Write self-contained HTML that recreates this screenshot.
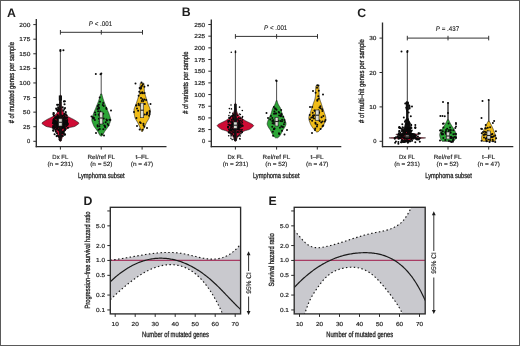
<!DOCTYPE html>
<html><head><meta charset="utf-8"><style>
html,body{margin:0;padding:0;background:#fff;width:520px;height:346px;overflow:hidden;}
body{position:relative;font-family:"Liberation Sans", sans-serif;}
text{text-rendering:geometricPrecision;}
</style></head><body>
<svg width="520" height="346" viewBox="0 0 520 346" style="position:absolute;left:0;top:0;filter:blur(0.35px)">
<rect x="0" y="0" width="520" height="346" fill="#ffffff"/>
<g font-family='"Liberation Sans", sans-serif'>
<text x="11.40" y="16.60" font-size="12.3" text-anchor="middle" font-weight="bold" fill="#1e1e1e">A</text>
<line x1="36.30" y1="19.00" x2="36.30" y2="147.20" stroke="#2b2b2b" stroke-width="1.35"/>
<line x1="33.30" y1="141.30" x2="36.30" y2="141.30" stroke="#2b2b2b" stroke-width="1.0"/>
<text x="30.30" y="143.30" font-size="5.8" text-anchor="end" stroke="#1e1e1e" stroke-width="0.18" fill="#1e1e1e">0</text>
<line x1="33.30" y1="126.71" x2="36.30" y2="126.71" stroke="#2b2b2b" stroke-width="1.0"/>
<text x="30.30" y="128.71" font-size="5.8" text-anchor="end" stroke="#1e1e1e" stroke-width="0.18" textLength="7.20" lengthAdjust="spacingAndGlyphs" fill="#1e1e1e">25</text>
<line x1="33.30" y1="112.13" x2="36.30" y2="112.13" stroke="#2b2b2b" stroke-width="1.0"/>
<text x="30.30" y="114.13" font-size="5.8" text-anchor="end" stroke="#1e1e1e" stroke-width="0.18" textLength="7.20" lengthAdjust="spacingAndGlyphs" fill="#1e1e1e">50</text>
<line x1="33.30" y1="97.54" x2="36.30" y2="97.54" stroke="#2b2b2b" stroke-width="1.0"/>
<text x="30.30" y="99.54" font-size="5.8" text-anchor="end" stroke="#1e1e1e" stroke-width="0.18" textLength="7.20" lengthAdjust="spacingAndGlyphs" fill="#1e1e1e">75</text>
<line x1="33.30" y1="82.95" x2="36.30" y2="82.95" stroke="#2b2b2b" stroke-width="1.0"/>
<text x="30.30" y="84.95" font-size="5.8" text-anchor="end" stroke="#1e1e1e" stroke-width="0.18" textLength="10.95" lengthAdjust="spacingAndGlyphs" fill="#1e1e1e">100</text>
<line x1="33.30" y1="68.36" x2="36.30" y2="68.36" stroke="#2b2b2b" stroke-width="1.0"/>
<text x="30.30" y="70.36" font-size="5.8" text-anchor="end" stroke="#1e1e1e" stroke-width="0.18" textLength="10.95" lengthAdjust="spacingAndGlyphs" fill="#1e1e1e">125</text>
<line x1="33.30" y1="53.78" x2="36.30" y2="53.78" stroke="#2b2b2b" stroke-width="1.0"/>
<text x="30.30" y="55.78" font-size="5.8" text-anchor="end" stroke="#1e1e1e" stroke-width="0.18" textLength="10.95" lengthAdjust="spacingAndGlyphs" fill="#1e1e1e">150</text>
<line x1="33.30" y1="39.19" x2="36.30" y2="39.19" stroke="#2b2b2b" stroke-width="1.0"/>
<text x="30.30" y="41.19" font-size="5.8" text-anchor="end" stroke="#1e1e1e" stroke-width="0.18" textLength="10.95" lengthAdjust="spacingAndGlyphs" fill="#1e1e1e">175</text>
<line x1="33.30" y1="24.60" x2="36.30" y2="24.60" stroke="#2b2b2b" stroke-width="1.0"/>
<text x="30.30" y="26.60" font-size="5.8" text-anchor="end" stroke="#1e1e1e" stroke-width="0.18" textLength="10.95" lengthAdjust="spacingAndGlyphs" fill="#1e1e1e">200</text>
<line x1="35.70" y1="146.60" x2="166.50" y2="146.60" stroke="#2b2b2b" stroke-width="1.35"/>
<line x1="60.40" y1="146.60" x2="60.40" y2="149.60" stroke="#2b2b2b" stroke-width="1.0"/>
<line x1="101.20" y1="146.60" x2="101.20" y2="149.60" stroke="#2b2b2b" stroke-width="1.0"/>
<line x1="142.10" y1="146.60" x2="142.10" y2="149.60" stroke="#2b2b2b" stroke-width="1.0"/>
<text x="60.30" y="158.60" font-size="6.0" text-anchor="middle" stroke="#1e1e1e" stroke-width="0.15" textLength="15.90" lengthAdjust="spacingAndGlyphs" fill="#1e1e1e">Dx FL</text>
<text x="60.30" y="165.70" font-size="6.0" text-anchor="middle" stroke="#1e1e1e" stroke-width="0.15" textLength="25.60" lengthAdjust="spacingAndGlyphs" fill="#1e1e1e">(n = 231)</text>
<text x="101.30" y="158.60" font-size="6.0" text-anchor="middle" stroke="#1e1e1e" stroke-width="0.15" textLength="27.60" lengthAdjust="spacingAndGlyphs" fill="#1e1e1e">Rel/ref FL</text>
<text x="101.30" y="165.70" font-size="6.0" text-anchor="middle" stroke="#1e1e1e" stroke-width="0.15" textLength="22.20" lengthAdjust="spacingAndGlyphs" fill="#1e1e1e">(n = 52)</text>
<text x="142.00" y="158.60" font-size="6.0" text-anchor="middle" stroke="#1e1e1e" stroke-width="0.15" textLength="13.20" lengthAdjust="spacingAndGlyphs" fill="#1e1e1e">t–FL</text>
<text x="142.00" y="165.70" font-size="6.0" text-anchor="middle" stroke="#1e1e1e" stroke-width="0.15" textLength="22.30" lengthAdjust="spacingAndGlyphs" fill="#1e1e1e">(n = 47)</text>
<text x="101.30" y="177.60" font-size="7.5" text-anchor="middle" stroke="#1e1e1e" stroke-width="0.3" textLength="46.60" lengthAdjust="spacingAndGlyphs" fill="#1e1e1e">Lymphoma subset</text>
<text x="14.10" y="82.70" font-size="7.6" text-anchor="middle" stroke="#1e1e1e" stroke-width="0.3" textLength="81.20" lengthAdjust="spacingAndGlyphs" transform="rotate(-90 14.10 82.70)" fill="#1e1e1e"># of mutated genes per sample</text>
<line x1="60.40" y1="32.30" x2="142.50" y2="32.30" stroke="#333" stroke-width="1.0"/>
<line x1="60.40" y1="30.00" x2="60.40" y2="34.60" stroke="#333" stroke-width="1.0"/>
<line x1="101.30" y1="30.00" x2="101.30" y2="34.60" stroke="#333" stroke-width="1.0"/>
<line x1="142.50" y1="30.00" x2="142.50" y2="34.60" stroke="#333" stroke-width="1.0"/>
<text x="100.50" y="25.90" font-size="6.7" text-anchor="middle" fill="#1e1e1e" stroke="#1e1e1e" stroke-width="0.12" textLength="23.40" lengthAdjust="spacingAndGlyphs"><tspan font-style="italic">P</tspan> &lt; .001</text>
<line x1="60.40" y1="50.00" x2="60.40" y2="100.00" stroke="#222" stroke-width="0.8"/>
<path d="M60.70,95.00 L60.70,95.52 L60.71,96.04 L60.72,96.56 L60.73,97.08 L60.75,97.60 L60.77,98.12 L60.80,98.64 L60.83,99.16 L60.86,99.68 L60.89,100.20 L60.93,100.72 L60.96,101.24 L61.00,101.76 L61.05,102.28 L61.09,102.80 L61.14,103.32 L61.19,103.84 L61.24,104.36 L61.31,104.88 L61.39,105.40 L61.49,105.92 L61.60,106.44 L61.73,106.97 L61.86,107.49 L62.00,108.01 L62.15,108.53 L62.31,109.05 L62.46,109.57 L62.63,110.09 L62.80,110.61 L62.99,111.13 L63.20,111.65 L63.44,112.17 L63.72,112.69 L64.03,113.21 L64.41,113.73 L64.87,114.25 L65.39,114.77 L65.99,115.29 L66.64,115.81 L67.42,116.33 L68.45,116.85 L69.54,117.37 L70.57,117.89 L71.63,118.41 L72.67,118.93 L73.66,119.45 L74.56,119.97 L75.42,120.49 L76.21,121.01 L76.94,121.53 L77.73,122.05 L78.48,122.57 L78.89,123.09 L78.73,123.61 L78.16,124.13 L77.40,124.65 L76.67,125.17 L75.93,125.69 L75.01,126.21 L73.63,126.73 L70.83,127.25 L69.08,127.77 L67.98,128.29 L67.16,128.81 L66.47,129.33 L65.88,129.86 L65.39,130.38 L64.97,130.90 L64.63,131.42 L64.33,131.94 L64.06,132.46 L63.82,132.98 L63.60,133.50 L63.39,134.02 L63.20,134.54 L63.02,135.06 L62.85,135.58 L62.69,136.10 L62.54,136.62 L62.38,137.14 L62.21,137.66 L62.04,138.18 L61.86,138.70 L61.67,139.22 L61.48,139.74 L61.29,140.26 L61.10,140.78 L60.90,141.30 L59.90,141.30 L59.70,140.78 L59.51,140.26 L59.32,139.74 L59.13,139.22 L58.94,138.70 L58.76,138.18 L58.59,137.66 L58.42,137.14 L58.26,136.62 L58.11,136.10 L57.95,135.58 L57.78,135.06 L57.60,134.54 L57.41,134.02 L57.20,133.50 L56.98,132.98 L56.74,132.46 L56.47,131.94 L56.17,131.42 L55.83,130.90 L55.41,130.38 L54.92,129.86 L54.33,129.33 L53.64,128.81 L52.82,128.29 L51.72,127.77 L49.97,127.25 L47.17,126.73 L45.79,126.21 L44.87,125.69 L44.13,125.17 L43.40,124.65 L42.64,124.13 L42.07,123.61 L41.91,123.09 L42.32,122.57 L43.07,122.05 L43.86,121.53 L44.59,121.01 L45.38,120.49 L46.24,119.97 L47.14,119.45 L48.13,118.93 L49.17,118.41 L50.23,117.89 L51.26,117.37 L52.35,116.85 L53.38,116.33 L54.16,115.81 L54.81,115.29 L55.41,114.77 L55.93,114.25 L56.39,113.73 L56.77,113.21 L57.08,112.69 L57.36,112.17 L57.60,111.65 L57.81,111.13 L58.00,110.61 L58.17,110.09 L58.34,109.57 L58.49,109.05 L58.65,108.53 L58.80,108.01 L58.94,107.49 L59.07,106.97 L59.20,106.44 L59.31,105.92 L59.41,105.40 L59.49,104.88 L59.56,104.36 L59.61,103.84 L59.66,103.32 L59.71,102.80 L59.75,102.28 L59.80,101.76 L59.84,101.24 L59.87,100.72 L59.91,100.20 L59.94,99.68 L59.97,99.16 L60.00,98.64 L60.03,98.12 L60.05,97.60 L60.07,97.08 L60.08,96.56 L60.09,96.04 L60.10,95.52 L60.10,95.00Z" fill="#cf0c35" stroke="#1a1a1a" stroke-width="0.6" stroke-linejoin="round"/>
<g fill="#0a0a0a"><circle cx="65.57" cy="123.86" r="1.05"/><circle cx="64.68" cy="130.21" r="1.05"/><circle cx="59.61" cy="126.89" r="1.05"/><circle cx="63.59" cy="117.81" r="1.05"/><circle cx="53.42" cy="119.93" r="1.05"/><circle cx="58.75" cy="129.85" r="1.05"/><circle cx="64.00" cy="101.41" r="1.05"/><circle cx="61.59" cy="127.04" r="1.05"/><circle cx="61.27" cy="127.75" r="1.05"/><circle cx="62.87" cy="122.31" r="1.05"/><circle cx="63.07" cy="119.82" r="1.05"/><circle cx="61.65" cy="118.52" r="1.05"/><circle cx="59.21" cy="118.67" r="1.05"/><circle cx="55.65" cy="122.48" r="1.05"/><circle cx="57.29" cy="122.76" r="1.05"/><circle cx="57.29" cy="123.51" r="1.05"/><circle cx="59.57" cy="139.61" r="1.05"/><circle cx="67.89" cy="127.80" r="1.05"/><circle cx="58.19" cy="124.34" r="1.05"/><circle cx="59.77" cy="137.25" r="1.05"/><circle cx="58.47" cy="117.65" r="1.05"/><circle cx="61.62" cy="115.45" r="1.05"/><circle cx="67.12" cy="122.29" r="1.05"/><circle cx="64.29" cy="109.03" r="1.05"/><circle cx="59.17" cy="109.05" r="1.05"/><circle cx="56.90" cy="122.94" r="1.05"/><circle cx="66.17" cy="121.55" r="1.05"/><circle cx="60.33" cy="131.39" r="1.05"/><circle cx="63.18" cy="125.14" r="1.05"/><circle cx="54.00" cy="123.01" r="1.05"/><circle cx="65.90" cy="122.72" r="1.05"/><circle cx="57.59" cy="118.69" r="1.05"/><circle cx="60.35" cy="102.87" r="1.05"/><circle cx="55.87" cy="117.99" r="1.05"/><circle cx="59.20" cy="125.78" r="1.05"/><circle cx="65.32" cy="117.86" r="1.05"/><circle cx="65.31" cy="120.30" r="1.05"/><circle cx="60.14" cy="99.62" r="1.05"/><circle cx="64.42" cy="127.69" r="1.05"/><circle cx="59.77" cy="117.06" r="1.05"/><circle cx="58.50" cy="118.40" r="1.05"/><circle cx="61.09" cy="129.89" r="1.05"/><circle cx="55.92" cy="122.91" r="1.05"/><circle cx="57.65" cy="127.85" r="1.05"/><circle cx="63.50" cy="125.71" r="1.05"/><circle cx="64.46" cy="127.10" r="1.05"/><circle cx="53.75" cy="113.26" r="1.05"/><circle cx="63.89" cy="123.71" r="1.05"/><circle cx="65.16" cy="123.03" r="1.05"/><circle cx="59.58" cy="127.96" r="1.05"/><circle cx="53.84" cy="120.86" r="1.05"/><circle cx="63.14" cy="123.98" r="1.05"/><circle cx="57.86" cy="111.05" r="1.05"/><circle cx="62.55" cy="120.50" r="1.05"/><circle cx="58.55" cy="120.00" r="1.05"/><circle cx="62.46" cy="116.08" r="1.05"/><circle cx="56.77" cy="128.37" r="1.05"/><circle cx="60.05" cy="121.24" r="1.05"/><circle cx="60.70" cy="137.14" r="1.05"/><circle cx="62.37" cy="124.82" r="1.05"/><circle cx="55.95" cy="123.79" r="1.05"/><circle cx="67.33" cy="124.34" r="1.05"/><circle cx="57.24" cy="124.03" r="1.05"/><circle cx="57.49" cy="117.24" r="1.05"/><circle cx="56.74" cy="122.50" r="1.05"/><circle cx="53.91" cy="119.16" r="1.05"/><circle cx="59.24" cy="121.77" r="1.05"/><circle cx="64.48" cy="113.83" r="1.05"/><circle cx="62.91" cy="136.06" r="1.05"/><circle cx="55.83" cy="117.91" r="1.05"/><circle cx="54.95" cy="125.00" r="1.05"/><circle cx="57.72" cy="119.75" r="1.05"/><circle cx="64.42" cy="130.55" r="1.05"/><circle cx="60.22" cy="125.23" r="1.05"/><circle cx="66.75" cy="115.49" r="1.05"/><circle cx="62.75" cy="128.19" r="1.05"/><circle cx="61.85" cy="133.45" r="1.05"/><circle cx="63.61" cy="132.15" r="1.05"/><circle cx="64.15" cy="123.99" r="1.05"/><circle cx="58.06" cy="116.12" r="1.05"/><circle cx="56.76" cy="117.30" r="1.05"/><circle cx="59.65" cy="131.95" r="1.05"/><circle cx="60.24" cy="123.43" r="1.05"/><circle cx="55.03" cy="117.70" r="1.05"/><circle cx="59.52" cy="129.85" r="1.05"/><circle cx="62.50" cy="124.54" r="1.05"/><circle cx="54.94" cy="123.55" r="1.05"/><circle cx="54.97" cy="121.11" r="1.05"/><circle cx="55.51" cy="120.53" r="1.05"/><circle cx="57.15" cy="118.47" r="1.05"/><circle cx="65.02" cy="108.07" r="1.05"/><circle cx="53.29" cy="130.28" r="1.05"/><circle cx="55.66" cy="121.90" r="1.05"/><circle cx="55.38" cy="123.70" r="1.05"/><circle cx="60.02" cy="121.07" r="1.05"/><circle cx="53.13" cy="126.15" r="1.05"/><circle cx="59.98" cy="106.12" r="1.05"/><circle cx="55.34" cy="121.04" r="1.05"/><circle cx="58.10" cy="107.36" r="1.05"/><circle cx="64.79" cy="114.60" r="1.05"/><circle cx="56.61" cy="136.09" r="1.05"/><circle cx="62.16" cy="126.11" r="1.05"/><circle cx="58.99" cy="121.66" r="1.05"/><circle cx="59.16" cy="122.90" r="1.05"/><circle cx="65.15" cy="129.01" r="1.05"/><circle cx="55.31" cy="120.68" r="1.05"/><circle cx="66.76" cy="123.16" r="1.05"/><circle cx="66.30" cy="124.57" r="1.05"/><circle cx="62.92" cy="121.48" r="1.05"/><circle cx="53.64" cy="122.48" r="1.05"/><circle cx="62.85" cy="127.20" r="1.05"/><circle cx="61.60" cy="132.32" r="1.05"/><circle cx="64.48" cy="116.45" r="1.05"/><circle cx="56.97" cy="133.28" r="1.05"/><circle cx="64.93" cy="101.26" r="1.05"/><circle cx="66.19" cy="126.22" r="1.05"/><circle cx="54.62" cy="127.19" r="1.05"/><circle cx="57.63" cy="114.93" r="1.05"/><circle cx="53.39" cy="121.62" r="1.05"/><circle cx="65.36" cy="128.54" r="1.05"/><circle cx="64.55" cy="104.30" r="1.05"/><circle cx="67.75" cy="123.89" r="1.05"/><circle cx="62.08" cy="126.59" r="1.05"/><circle cx="62.89" cy="122.61" r="1.05"/><circle cx="63.08" cy="126.07" r="1.05"/><circle cx="61.45" cy="118.16" r="1.05"/><circle cx="67.19" cy="117.75" r="1.05"/><circle cx="62.02" cy="121.00" r="1.05"/><circle cx="57.94" cy="117.00" r="1.05"/><circle cx="60.59" cy="120.46" r="1.05"/><circle cx="54.62" cy="134.18" r="1.05"/><circle cx="63.76" cy="123.64" r="1.05"/><circle cx="63.31" cy="120.68" r="1.05"/><circle cx="59.22" cy="120.40" r="1.05"/><circle cx="64.62" cy="134.74" r="1.05"/><circle cx="64.23" cy="122.07" r="1.05"/><circle cx="58.44" cy="136.35" r="1.05"/><circle cx="54.06" cy="123.15" r="1.05"/><circle cx="54.88" cy="121.86" r="1.05"/><circle cx="55.66" cy="129.90" r="1.05"/><circle cx="57.46" cy="126.74" r="1.05"/><circle cx="59.61" cy="124.22" r="1.05"/><circle cx="66.82" cy="121.61" r="1.05"/><circle cx="57.08" cy="128.84" r="1.05"/><circle cx="66.38" cy="121.26" r="1.05"/><circle cx="62.57" cy="131.88" r="1.05"/><circle cx="65.70" cy="112.16" r="1.05"/><circle cx="58.95" cy="123.17" r="1.05"/><circle cx="52.95" cy="123.16" r="1.05"/><circle cx="63.84" cy="133.81" r="1.05"/><circle cx="56.58" cy="118.13" r="1.05"/><circle cx="55.04" cy="127.40" r="1.05"/><circle cx="64.89" cy="125.01" r="1.05"/><circle cx="63.19" cy="125.09" r="1.05"/><circle cx="56.09" cy="124.53" r="1.05"/><circle cx="57.61" cy="135.57" r="1.05"/><circle cx="66.99" cy="120.94" r="1.05"/><circle cx="56.93" cy="122.01" r="1.05"/><circle cx="63.44" cy="118.38" r="1.05"/><circle cx="56.70" cy="109.84" r="1.05"/><circle cx="65.13" cy="118.26" r="1.05"/><circle cx="55.81" cy="131.77" r="1.05"/><circle cx="60.64" cy="128.20" r="1.05"/><circle cx="53.43" cy="114.44" r="1.05"/><circle cx="61.15" cy="123.35" r="1.05"/><circle cx="65.60" cy="121.61" r="1.05"/><circle cx="54.17" cy="124.49" r="1.05"/><circle cx="57.01" cy="124.79" r="1.05"/><circle cx="64.37" cy="119.96" r="1.05"/><circle cx="61.70" cy="135.87" r="1.05"/><circle cx="57.59" cy="121.21" r="1.05"/><circle cx="62.33" cy="123.99" r="1.05"/><circle cx="59.72" cy="124.67" r="1.05"/><circle cx="65.84" cy="117.53" r="1.05"/><circle cx="58.33" cy="111.00" r="1.05"/><circle cx="64.27" cy="122.10" r="1.05"/><circle cx="62.44" cy="126.68" r="1.05"/><circle cx="64.01" cy="126.93" r="1.05"/><circle cx="58.57" cy="125.44" r="1.05"/><circle cx="63.77" cy="115.24" r="1.05"/><circle cx="62.78" cy="131.90" r="1.05"/><circle cx="58.71" cy="126.19" r="1.05"/><circle cx="53.30" cy="130.67" r="1.05"/><circle cx="67.34" cy="123.38" r="1.05"/><circle cx="62.96" cy="132.65" r="1.05"/><circle cx="57.45" cy="109.45" r="1.05"/><circle cx="62.71" cy="107.19" r="1.05"/><circle cx="58.19" cy="104.71" r="1.05"/><circle cx="59.94" cy="120.36" r="1.05"/><circle cx="65.80" cy="118.62" r="1.05"/><circle cx="59.62" cy="118.35" r="1.05"/><circle cx="57.22" cy="123.30" r="1.05"/><circle cx="58.45" cy="108.79" r="1.05"/><circle cx="54.06" cy="122.90" r="1.05"/><circle cx="56.19" cy="116.51" r="1.05"/><circle cx="56.97" cy="125.82" r="1.05"/><circle cx="57.13" cy="104.85" r="1.05"/><circle cx="53.85" cy="120.58" r="1.05"/><circle cx="59.99" cy="133.48" r="1.05"/><circle cx="56.12" cy="122.62" r="1.05"/><circle cx="63.98" cy="127.25" r="1.05"/><circle cx="66.74" cy="124.62" r="1.05"/><circle cx="56.99" cy="124.21" r="1.05"/><circle cx="61.48" cy="117.19" r="1.05"/><circle cx="60.50" cy="123.19" r="1.05"/><circle cx="56.15" cy="108.62" r="1.05"/><circle cx="54.77" cy="126.71" r="1.05"/><circle cx="65.02" cy="134.38" r="1.05"/><circle cx="60.01" cy="128.84" r="1.05"/><circle cx="63.45" cy="110.65" r="1.05"/><circle cx="53.90" cy="119.46" r="1.05"/><circle cx="61.82" cy="120.05" r="1.05"/><circle cx="65.88" cy="114.25" r="1.05"/><circle cx="65.91" cy="123.87" r="1.05"/><circle cx="52.99" cy="127.73" r="1.05"/><circle cx="60.73" cy="119.63" r="1.05"/><circle cx="58.44" cy="130.10" r="1.05"/><circle cx="64.30" cy="126.75" r="1.05"/><circle cx="54.00" cy="115.65" r="1.05"/><circle cx="56.87" cy="126.53" r="1.05"/><circle cx="65.09" cy="129.63" r="1.05"/><circle cx="59.94" cy="117.97" r="1.05"/><circle cx="59.70" cy="123.59" r="1.05"/><circle cx="67.43" cy="124.93" r="1.05"/><circle cx="57.70" cy="124.21" r="1.05"/><circle cx="53.53" cy="113.11" r="1.05"/><circle cx="58.78" cy="124.84" r="1.05"/><circle cx="55.20" cy="124.60" r="1.05"/><circle cx="54.13" cy="128.45" r="1.05"/><circle cx="61.42" cy="126.78" r="1.05"/><circle cx="67.20" cy="120.13" r="1.05"/><circle cx="60.40" cy="51.00" r="1.05"/><circle cx="63.40" cy="50.30" r="1.05"/><circle cx="60.40" cy="50.00" r="1.05"/></g>
<rect x="59.20" y="96" width="2.4" height="45" fill="#151010"/>
<rect x="58.80" y="95.5" width="3.2" height="5" fill="#111"/>
<rect x="58.70" y="118.80" width="3.4" height="7.20" fill="#dcdcd4" stroke="#222" stroke-width="0.6"/>
<line x1="58.70" y1="122.30" x2="62.10" y2="122.30" stroke="#222" stroke-width="1.1"/>
<line x1="101.20" y1="73.50" x2="101.20" y2="95.00" stroke="#222" stroke-width="0.8"/>
<path d="M101.80,94.00 L101.91,94.47 L102.03,94.95 L102.15,95.42 L102.28,95.89 L102.41,96.37 L102.54,96.84 L102.67,97.31 L102.81,97.78 L102.95,98.26 L103.10,98.73 L103.25,99.20 L103.40,99.68 L103.55,100.15 L103.71,100.62 L103.87,101.10 L104.04,101.57 L104.22,102.04 L104.40,102.51 L104.58,102.99 L104.77,103.46 L104.96,103.93 L105.15,104.41 L105.34,104.88 L105.54,105.35 L105.73,105.83 L105.92,106.30 L106.11,106.77 L106.30,107.24 L106.49,107.72 L106.68,108.19 L106.87,108.66 L107.07,109.14 L107.27,109.61 L107.48,110.08 L107.68,110.56 L107.88,111.03 L108.08,111.50 L108.28,111.98 L108.47,112.45 L108.66,112.92 L108.84,113.39 L109.02,113.87 L109.18,114.34 L109.34,114.81 L109.49,115.29 L109.65,115.76 L109.82,116.23 L109.98,116.71 L110.14,117.18 L110.28,117.65 L110.41,118.12 L110.51,118.60 L110.57,119.07 L110.60,119.54 L110.59,120.02 L110.54,120.49 L110.45,120.96 L110.34,121.44 L110.21,121.91 L110.05,122.38 L109.88,122.86 L109.69,123.33 L109.49,123.80 L109.29,124.27 L109.08,124.75 L108.87,125.22 L108.66,125.69 L108.43,126.17 L108.16,126.64 L107.86,127.11 L107.53,127.59 L107.19,128.06 L106.83,128.53 L106.47,129.00 L106.10,129.48 L105.74,129.95 L105.39,130.42 L105.05,130.90 L104.74,131.37 L104.46,131.84 L104.20,132.32 L103.95,132.79 L103.71,133.26 L103.45,133.73 L103.18,134.21 L102.88,134.68 L102.54,135.15 L102.18,135.63 L101.80,136.10 L100.60,136.10 L100.22,135.63 L99.86,135.15 L99.52,134.68 L99.22,134.21 L98.95,133.73 L98.69,133.26 L98.45,132.79 L98.20,132.32 L97.94,131.84 L97.66,131.37 L97.35,130.90 L97.01,130.42 L96.66,129.95 L96.30,129.48 L95.93,129.00 L95.57,128.53 L95.21,128.06 L94.87,127.59 L94.54,127.11 L94.24,126.64 L93.97,126.17 L93.74,125.69 L93.53,125.22 L93.32,124.75 L93.11,124.27 L92.91,123.80 L92.71,123.33 L92.52,122.86 L92.35,122.38 L92.19,121.91 L92.06,121.44 L91.95,120.96 L91.86,120.49 L91.81,120.02 L91.80,119.54 L91.83,119.07 L91.89,118.60 L91.99,118.12 L92.12,117.65 L92.26,117.18 L92.42,116.71 L92.58,116.23 L92.75,115.76 L92.91,115.29 L93.06,114.81 L93.22,114.34 L93.38,113.87 L93.56,113.39 L93.74,112.92 L93.93,112.45 L94.12,111.98 L94.32,111.50 L94.52,111.03 L94.72,110.56 L94.92,110.08 L95.13,109.61 L95.33,109.14 L95.53,108.66 L95.72,108.19 L95.91,107.72 L96.10,107.24 L96.29,106.77 L96.48,106.30 L96.67,105.83 L96.86,105.35 L97.06,104.88 L97.25,104.41 L97.44,103.93 L97.63,103.46 L97.82,102.99 L98.00,102.51 L98.18,102.04 L98.36,101.57 L98.53,101.10 L98.69,100.62 L98.85,100.15 L99.00,99.68 L99.15,99.20 L99.30,98.73 L99.45,98.26 L99.59,97.78 L99.73,97.31 L99.86,96.84 L99.99,96.37 L100.12,95.89 L100.25,95.42 L100.37,94.95 L100.49,94.47 L100.60,94.00Z" fill="#2ca536" stroke="#1a1a1a" stroke-width="0.6" stroke-linejoin="round"/>
<g fill="#0a0a0a"><circle cx="94.85" cy="119.96" r="1.0"/><circle cx="106.96" cy="120.46" r="1.0"/><circle cx="99.83" cy="113.42" r="1.0"/><circle cx="106.45" cy="119.49" r="1.0"/><circle cx="107.65" cy="123.88" r="1.0"/><circle cx="110.30" cy="120.02" r="1.0"/><circle cx="97.58" cy="125.15" r="1.0"/><circle cx="100.33" cy="118.69" r="1.0"/><circle cx="106.25" cy="108.12" r="1.0"/><circle cx="109.45" cy="119.84" r="1.0"/><circle cx="98.86" cy="118.76" r="1.0"/><circle cx="106.55" cy="109.12" r="1.0"/><circle cx="99.51" cy="121.55" r="1.0"/><circle cx="99.39" cy="126.30" r="1.0"/><circle cx="103.76" cy="106.12" r="1.0"/><circle cx="100.67" cy="119.82" r="1.0"/><circle cx="100.33" cy="123.54" r="1.0"/><circle cx="99.31" cy="115.41" r="1.0"/><circle cx="100.26" cy="111.46" r="1.0"/><circle cx="95.37" cy="114.70" r="1.0"/><circle cx="93.14" cy="118.60" r="1.0"/><circle cx="105.66" cy="122.32" r="1.0"/><circle cx="102.39" cy="118.71" r="1.0"/><circle cx="102.77" cy="105.00" r="1.0"/><circle cx="105.22" cy="127.34" r="1.0"/><circle cx="98.49" cy="129.74" r="1.0"/><circle cx="98.81" cy="104.78" r="1.0"/><circle cx="98.13" cy="111.26" r="1.0"/><circle cx="98.89" cy="108.66" r="1.0"/><circle cx="105.00" cy="126.21" r="1.0"/><circle cx="99.82" cy="129.06" r="1.0"/><circle cx="99.99" cy="101.76" r="1.0"/><circle cx="103.32" cy="113.71" r="1.0"/><circle cx="97.42" cy="109.01" r="1.0"/><circle cx="94.05" cy="118.09" r="1.0"/><circle cx="103.31" cy="129.28" r="1.0"/><circle cx="103.19" cy="103.07" r="1.0"/><circle cx="98.92" cy="107.82" r="1.0"/><circle cx="103.69" cy="118.45" r="1.0"/><circle cx="92.93" cy="117.29" r="1.0"/><circle cx="99.59" cy="123.47" r="1.0"/><circle cx="102.52" cy="116.03" r="1.0"/><circle cx="98.55" cy="107.23" r="1.0"/><circle cx="98.76" cy="114.51" r="1.0"/><circle cx="101.75" cy="134.33" r="1.0"/><circle cx="102.73" cy="123.13" r="1.0"/><circle cx="97.77" cy="106.07" r="1.0"/><circle cx="104.34" cy="125.50" r="1.0"/><circle cx="95.03" cy="112.44" r="1.0"/><circle cx="108.44" cy="125.20" r="1.0"/><circle cx="99.71" cy="97.45" r="1.0"/><circle cx="97.67" cy="126.43" r="1.0"/><circle cx="95.80" cy="74.00" r="1.0"/><circle cx="101.30" cy="73.60" r="1.0"/><circle cx="100.50" cy="74.20" r="1.0"/><circle cx="91.50" cy="116.50" r="1.0"/><circle cx="111.00" cy="110.50" r="1.0"/><circle cx="96.00" cy="133.00" r="1.0"/><circle cx="104.00" cy="135.50" r="1.0"/></g>
<rect x="99.60" y="112.00" width="3.2" height="12.00" fill="#dcdcd4" stroke="#222" stroke-width="0.6"/>
<line x1="99.60" y1="118.00" x2="102.80" y2="118.00" stroke="#222" stroke-width="1.1"/>
<path d="M143.90,83.20 L143.97,83.74 L144.04,84.29 L144.10,84.83 L144.15,85.37 L144.19,85.91 L144.23,86.46 L144.25,87.00 L144.27,87.54 L144.28,88.08 L144.30,88.63 L144.32,89.17 L144.33,89.71 L144.36,90.26 L144.39,90.80 L144.43,91.34 L144.50,91.88 L144.59,92.43 L144.71,92.97 L144.84,93.51 L144.99,94.05 L145.15,94.60 L145.31,95.14 L145.48,95.68 L145.65,96.22 L145.82,96.77 L145.97,97.31 L146.13,97.85 L146.29,98.40 L146.45,98.94 L146.62,99.48 L146.80,100.02 L146.97,100.57 L147.15,101.11 L147.33,101.65 L147.51,102.19 L147.69,102.74 L147.87,103.28 L148.04,103.82 L148.22,104.37 L148.43,104.91 L148.66,105.45 L148.89,105.99 L149.13,106.54 L149.36,107.08 L149.58,107.62 L149.77,108.16 L149.94,108.71 L150.08,109.25 L150.16,109.79 L150.20,110.33 L150.19,110.88 L150.17,111.42 L150.14,111.96 L150.09,112.51 L150.04,113.05 L149.97,113.59 L149.89,114.13 L149.81,114.68 L149.72,115.22 L149.62,115.76 L149.52,116.30 L149.41,116.85 L149.28,117.39 L149.10,117.93 L148.87,118.48 L148.60,119.02 L148.31,119.56 L148.00,120.10 L147.67,120.65 L147.34,121.19 L147.01,121.73 L146.69,122.27 L146.39,122.82 L146.12,123.36 L145.87,123.90 L145.63,124.44 L145.39,124.99 L145.15,125.53 L144.92,126.07 L144.69,126.62 L144.46,127.16 L144.23,127.70 L143.99,128.24 L143.76,128.79 L143.53,129.33 L143.30,129.87 L143.06,130.41 L142.83,130.96 L142.60,131.50 L141.60,131.50 L141.37,130.96 L141.14,130.41 L140.90,129.87 L140.67,129.33 L140.44,128.79 L140.21,128.24 L139.97,127.70 L139.74,127.16 L139.51,126.62 L139.28,126.07 L139.05,125.53 L138.81,124.99 L138.57,124.44 L138.33,123.90 L138.08,123.36 L137.81,122.82 L137.51,122.27 L137.19,121.73 L136.86,121.19 L136.53,120.65 L136.20,120.10 L135.89,119.56 L135.60,119.02 L135.33,118.48 L135.10,117.93 L134.92,117.39 L134.79,116.85 L134.68,116.30 L134.58,115.76 L134.48,115.22 L134.39,114.68 L134.31,114.13 L134.23,113.59 L134.16,113.05 L134.11,112.51 L134.06,111.96 L134.03,111.42 L134.01,110.88 L134.00,110.33 L134.04,109.79 L134.12,109.25 L134.26,108.71 L134.43,108.16 L134.62,107.62 L134.84,107.08 L135.07,106.54 L135.31,105.99 L135.54,105.45 L135.77,104.91 L135.98,104.37 L136.16,103.82 L136.33,103.28 L136.51,102.74 L136.69,102.19 L136.87,101.65 L137.05,101.11 L137.23,100.57 L137.40,100.02 L137.58,99.48 L137.75,98.94 L137.91,98.40 L138.07,97.85 L138.23,97.31 L138.38,96.77 L138.55,96.22 L138.72,95.68 L138.89,95.14 L139.05,94.60 L139.21,94.05 L139.36,93.51 L139.49,92.97 L139.61,92.43 L139.70,91.88 L139.77,91.34 L139.81,90.80 L139.84,90.26 L139.87,89.71 L139.88,89.17 L139.90,88.63 L139.92,88.08 L139.93,87.54 L139.95,87.00 L139.97,86.46 L140.01,85.91 L140.05,85.37 L140.10,84.83 L140.16,84.29 L140.23,83.74 L140.30,83.20Z" fill="#f0bc18" stroke="#1a1a1a" stroke-width="0.6" stroke-linejoin="round"/>
<g fill="#0a0a0a"><circle cx="144.35" cy="99.60" r="1.0"/><circle cx="142.48" cy="129.63" r="1.0"/><circle cx="138.54" cy="103.76" r="1.0"/><circle cx="147.18" cy="112.60" r="1.0"/><circle cx="139.67" cy="129.42" r="1.0"/><circle cx="143.56" cy="125.18" r="1.0"/><circle cx="140.40" cy="88.43" r="1.0"/><circle cx="141.63" cy="110.42" r="1.0"/><circle cx="149.73" cy="112.06" r="1.0"/><circle cx="142.69" cy="115.56" r="1.0"/><circle cx="136.11" cy="105.61" r="1.0"/><circle cx="141.21" cy="104.27" r="1.0"/><circle cx="142.92" cy="84.33" r="1.0"/><circle cx="139.65" cy="88.05" r="1.0"/><circle cx="138.10" cy="110.69" r="1.0"/><circle cx="139.27" cy="91.77" r="1.0"/><circle cx="142.48" cy="99.15" r="1.0"/><circle cx="140.49" cy="105.65" r="1.0"/><circle cx="142.12" cy="92.57" r="1.0"/><circle cx="140.97" cy="88.39" r="1.0"/><circle cx="143.44" cy="123.68" r="1.0"/><circle cx="136.98" cy="108.59" r="1.0"/><circle cx="146.18" cy="99.97" r="1.0"/><circle cx="149.05" cy="115.87" r="1.0"/><circle cx="142.06" cy="85.87" r="1.0"/><circle cx="141.73" cy="100.88" r="1.0"/><circle cx="144.30" cy="126.80" r="1.0"/><circle cx="140.02" cy="122.25" r="1.0"/><circle cx="146.80" cy="114.53" r="1.0"/><circle cx="140.73" cy="93.30" r="1.0"/><circle cx="144.84" cy="104.09" r="1.0"/><circle cx="141.19" cy="87.11" r="1.0"/><circle cx="143.19" cy="101.05" r="1.0"/><circle cx="144.42" cy="86.73" r="1.0"/><circle cx="138.64" cy="95.84" r="1.0"/><circle cx="146.97" cy="113.25" r="1.0"/><circle cx="142.36" cy="92.50" r="1.0"/><circle cx="141.02" cy="97.97" r="1.0"/><circle cx="140.72" cy="122.94" r="1.0"/><circle cx="136.42" cy="105.17" r="1.0"/><circle cx="138.94" cy="105.01" r="1.0"/><circle cx="142.89" cy="93.22" r="1.0"/><circle cx="136.44" cy="118.12" r="1.0"/><circle cx="144.73" cy="114.44" r="1.0"/><circle cx="149.57" cy="111.10" r="1.0"/><circle cx="149.64" cy="113.93" r="1.0"/><circle cx="144.55" cy="92.94" r="1.0"/><circle cx="135.50" cy="83.50" r="1.0"/><circle cx="148.00" cy="85.50" r="1.0"/><circle cx="141.50" cy="82.50" r="1.0"/><circle cx="134.00" cy="112.00" r="1.0"/><circle cx="150.50" cy="104.00" r="1.0"/><circle cx="137.00" cy="126.00" r="1.0"/><circle cx="147.00" cy="128.00" r="1.0"/></g>
<rect x="140.50" y="103.10" width="3.2" height="14.60" fill="#dcdcd4" stroke="#222" stroke-width="0.6"/>
<line x1="140.50" y1="110.20" x2="143.70" y2="110.20" stroke="#222" stroke-width="1.1"/>
<text x="186.30" y="16.40" font-size="12.3" text-anchor="middle" font-weight="bold" fill="#1e1e1e">B</text>
<line x1="211.30" y1="19.50" x2="211.30" y2="147.20" stroke="#2b2b2b" stroke-width="1.35"/>
<line x1="208.30" y1="141.25" x2="211.30" y2="141.25" stroke="#2b2b2b" stroke-width="1.0"/>
<text x="205.20" y="143.25" font-size="5.8" text-anchor="end" stroke="#1e1e1e" stroke-width="0.18" fill="#1e1e1e">0</text>
<line x1="208.30" y1="129.57" x2="211.30" y2="129.57" stroke="#2b2b2b" stroke-width="1.0"/>
<text x="205.20" y="131.57" font-size="5.8" text-anchor="end" stroke="#1e1e1e" stroke-width="0.18" textLength="7.20" lengthAdjust="spacingAndGlyphs" fill="#1e1e1e">25</text>
<line x1="208.30" y1="117.90" x2="211.30" y2="117.90" stroke="#2b2b2b" stroke-width="1.0"/>
<text x="205.20" y="119.90" font-size="5.8" text-anchor="end" stroke="#1e1e1e" stroke-width="0.18" textLength="7.20" lengthAdjust="spacingAndGlyphs" fill="#1e1e1e">50</text>
<line x1="208.30" y1="106.22" x2="211.30" y2="106.22" stroke="#2b2b2b" stroke-width="1.0"/>
<text x="205.20" y="108.22" font-size="5.8" text-anchor="end" stroke="#1e1e1e" stroke-width="0.18" textLength="7.20" lengthAdjust="spacingAndGlyphs" fill="#1e1e1e">75</text>
<line x1="208.30" y1="94.55" x2="211.30" y2="94.55" stroke="#2b2b2b" stroke-width="1.0"/>
<text x="205.20" y="96.55" font-size="5.8" text-anchor="end" stroke="#1e1e1e" stroke-width="0.18" textLength="10.95" lengthAdjust="spacingAndGlyphs" fill="#1e1e1e">100</text>
<line x1="208.30" y1="82.88" x2="211.30" y2="82.88" stroke="#2b2b2b" stroke-width="1.0"/>
<text x="205.20" y="84.88" font-size="5.8" text-anchor="end" stroke="#1e1e1e" stroke-width="0.18" textLength="10.95" lengthAdjust="spacingAndGlyphs" fill="#1e1e1e">125</text>
<line x1="208.30" y1="71.20" x2="211.30" y2="71.20" stroke="#2b2b2b" stroke-width="1.0"/>
<text x="205.20" y="73.20" font-size="5.8" text-anchor="end" stroke="#1e1e1e" stroke-width="0.18" textLength="10.95" lengthAdjust="spacingAndGlyphs" fill="#1e1e1e">150</text>
<line x1="208.30" y1="59.52" x2="211.30" y2="59.52" stroke="#2b2b2b" stroke-width="1.0"/>
<text x="205.20" y="61.52" font-size="5.8" text-anchor="end" stroke="#1e1e1e" stroke-width="0.18" textLength="10.95" lengthAdjust="spacingAndGlyphs" fill="#1e1e1e">175</text>
<line x1="208.30" y1="47.85" x2="211.30" y2="47.85" stroke="#2b2b2b" stroke-width="1.0"/>
<text x="205.20" y="49.85" font-size="5.8" text-anchor="end" stroke="#1e1e1e" stroke-width="0.18" textLength="10.95" lengthAdjust="spacingAndGlyphs" fill="#1e1e1e">200</text>
<line x1="208.30" y1="36.17" x2="211.30" y2="36.17" stroke="#2b2b2b" stroke-width="1.0"/>
<text x="205.20" y="38.17" font-size="5.8" text-anchor="end" stroke="#1e1e1e" stroke-width="0.18" textLength="10.95" lengthAdjust="spacingAndGlyphs" fill="#1e1e1e">225</text>
<line x1="208.30" y1="24.50" x2="211.30" y2="24.50" stroke="#2b2b2b" stroke-width="1.0"/>
<text x="205.20" y="26.50" font-size="5.8" text-anchor="end" stroke="#1e1e1e" stroke-width="0.18" textLength="10.95" lengthAdjust="spacingAndGlyphs" fill="#1e1e1e">250</text>
<line x1="210.70" y1="146.60" x2="341.30" y2="146.60" stroke="#2b2b2b" stroke-width="1.35"/>
<line x1="235.40" y1="146.60" x2="235.40" y2="149.60" stroke="#2b2b2b" stroke-width="1.0"/>
<line x1="276.60" y1="146.60" x2="276.60" y2="149.60" stroke="#2b2b2b" stroke-width="1.0"/>
<line x1="317.30" y1="146.60" x2="317.30" y2="149.60" stroke="#2b2b2b" stroke-width="1.0"/>
<text x="235.50" y="158.60" font-size="6.0" text-anchor="middle" stroke="#1e1e1e" stroke-width="0.15" textLength="15.90" lengthAdjust="spacingAndGlyphs" fill="#1e1e1e">Dx FL</text>
<text x="235.50" y="165.70" font-size="6.0" text-anchor="middle" stroke="#1e1e1e" stroke-width="0.15" textLength="25.60" lengthAdjust="spacingAndGlyphs" fill="#1e1e1e">(n = 231)</text>
<text x="276.40" y="158.60" font-size="6.0" text-anchor="middle" stroke="#1e1e1e" stroke-width="0.15" textLength="27.60" lengthAdjust="spacingAndGlyphs" fill="#1e1e1e">Rel/ref FL</text>
<text x="276.40" y="165.70" font-size="6.0" text-anchor="middle" stroke="#1e1e1e" stroke-width="0.15" textLength="22.20" lengthAdjust="spacingAndGlyphs" fill="#1e1e1e">(n = 52)</text>
<text x="317.20" y="158.60" font-size="6.0" text-anchor="middle" stroke="#1e1e1e" stroke-width="0.15" textLength="13.20" lengthAdjust="spacingAndGlyphs" fill="#1e1e1e">t–FL</text>
<text x="317.20" y="165.70" font-size="6.0" text-anchor="middle" stroke="#1e1e1e" stroke-width="0.15" textLength="22.30" lengthAdjust="spacingAndGlyphs" fill="#1e1e1e">(n = 47)</text>
<text x="276.20" y="177.60" font-size="7.5" text-anchor="middle" stroke="#1e1e1e" stroke-width="0.3" textLength="46.60" lengthAdjust="spacingAndGlyphs" fill="#1e1e1e">Lymphoma subset</text>
<text x="188.50" y="82.60" font-size="7.6" text-anchor="middle" stroke="#1e1e1e" stroke-width="0.3" textLength="62.40" lengthAdjust="spacingAndGlyphs" transform="rotate(-90 188.50 82.60)" fill="#1e1e1e"># of variants per sample</text>
<line x1="235.40" y1="36.40" x2="317.50" y2="36.40" stroke="#333" stroke-width="1.0"/>
<line x1="235.40" y1="34.10" x2="235.40" y2="38.70" stroke="#333" stroke-width="1.0"/>
<line x1="276.60" y1="34.10" x2="276.60" y2="38.70" stroke="#333" stroke-width="1.0"/>
<line x1="317.50" y1="34.10" x2="317.50" y2="38.70" stroke="#333" stroke-width="1.0"/>
<text x="275.70" y="30.20" font-size="6.7" text-anchor="middle" fill="#1e1e1e" stroke="#1e1e1e" stroke-width="0.12" textLength="23.20" lengthAdjust="spacingAndGlyphs"><tspan font-style="italic">P</tspan> &lt; .001</text>
<line x1="235.40" y1="50.50" x2="235.40" y2="106.00" stroke="#222" stroke-width="0.8"/>
<path d="M235.70,103.00 L235.70,103.43 L235.71,103.86 L235.73,104.29 L235.75,104.72 L235.78,105.15 L235.82,105.58 L235.85,106.01 L235.90,106.44 L235.95,106.87 L236.00,107.30 L236.05,107.73 L236.11,108.16 L236.18,108.59 L236.24,109.02 L236.31,109.46 L236.38,109.89 L236.46,110.32 L236.56,110.75 L236.68,111.18 L236.82,111.61 L236.98,112.04 L237.16,112.47 L237.35,112.90 L237.56,113.33 L237.77,113.76 L238.00,114.19 L238.28,114.62 L238.60,115.05 L238.95,115.48 L239.34,115.91 L239.75,116.34 L240.17,116.77 L240.61,117.20 L241.07,117.63 L241.57,118.06 L242.09,118.49 L242.65,118.92 L243.24,119.35 L243.86,119.78 L244.51,120.21 L245.20,120.64 L245.99,121.07 L246.85,121.50 L247.74,121.93 L248.63,122.37 L249.50,122.80 L250.44,123.23 L251.33,123.66 L252.02,124.09 L252.65,124.52 L253.20,124.95 L253.55,125.38 L253.57,125.81 L253.31,126.24 L252.88,126.67 L252.37,127.10 L251.87,127.53 L251.39,127.96 L250.88,128.39 L250.28,128.82 L249.58,129.25 L248.66,129.68 L247.18,130.11 L245.58,130.54 L244.37,130.97 L243.38,131.40 L242.49,131.83 L241.75,132.26 L241.14,132.69 L240.62,133.12 L240.15,133.55 L239.73,133.98 L239.35,134.41 L239.01,134.84 L238.70,135.28 L238.42,135.71 L238.16,136.14 L237.91,136.57 L237.69,137.00 L237.47,137.43 L237.27,137.86 L237.07,138.29 L236.87,138.72 L236.69,139.15 L236.51,139.58 L236.34,140.01 L236.18,140.44 L236.04,140.87 L235.90,141.30 L234.90,141.30 L234.76,140.87 L234.62,140.44 L234.46,140.01 L234.29,139.58 L234.11,139.15 L233.93,138.72 L233.73,138.29 L233.53,137.86 L233.33,137.43 L233.11,137.00 L232.89,136.57 L232.64,136.14 L232.38,135.71 L232.10,135.28 L231.79,134.84 L231.45,134.41 L231.07,133.98 L230.65,133.55 L230.18,133.12 L229.66,132.69 L229.05,132.26 L228.31,131.83 L227.42,131.40 L226.43,130.97 L225.22,130.54 L223.62,130.11 L222.14,129.68 L221.22,129.25 L220.52,128.82 L219.92,128.39 L219.41,127.96 L218.93,127.53 L218.43,127.10 L217.92,126.67 L217.49,126.24 L217.23,125.81 L217.25,125.38 L217.60,124.95 L218.15,124.52 L218.78,124.09 L219.47,123.66 L220.36,123.23 L221.30,122.80 L222.17,122.37 L223.06,121.93 L223.95,121.50 L224.81,121.07 L225.60,120.64 L226.29,120.21 L226.94,119.78 L227.56,119.35 L228.15,118.92 L228.71,118.49 L229.23,118.06 L229.73,117.63 L230.19,117.20 L230.63,116.77 L231.05,116.34 L231.46,115.91 L231.85,115.48 L232.20,115.05 L232.52,114.62 L232.80,114.19 L233.03,113.76 L233.24,113.33 L233.45,112.90 L233.64,112.47 L233.82,112.04 L233.98,111.61 L234.12,111.18 L234.24,110.75 L234.34,110.32 L234.42,109.89 L234.49,109.46 L234.56,109.02 L234.62,108.59 L234.69,108.16 L234.75,107.73 L234.80,107.30 L234.85,106.87 L234.90,106.44 L234.95,106.01 L234.98,105.58 L235.02,105.15 L235.05,104.72 L235.07,104.29 L235.09,103.86 L235.10,103.43 L235.10,103.00Z" fill="#cf0c35" stroke="#1a1a1a" stroke-width="0.6" stroke-linejoin="round"/>
<g fill="#0a0a0a"><circle cx="242.06" cy="129.65" r="0.8"/><circle cx="232.97" cy="119.00" r="0.8"/><circle cx="231.05" cy="135.92" r="0.8"/><circle cx="229.43" cy="120.68" r="0.8"/><circle cx="237.68" cy="131.89" r="0.8"/><circle cx="234.86" cy="132.23" r="0.8"/><circle cx="228.08" cy="127.04" r="0.8"/><circle cx="238.63" cy="125.59" r="0.8"/><circle cx="231.75" cy="120.10" r="0.8"/><circle cx="239.61" cy="125.94" r="0.8"/><circle cx="235.23" cy="122.31" r="0.8"/><circle cx="235.93" cy="118.83" r="0.8"/><circle cx="234.76" cy="119.61" r="0.8"/><circle cx="238.04" cy="129.76" r="0.8"/><circle cx="242.26" cy="132.50" r="0.8"/><circle cx="239.87" cy="118.51" r="0.8"/><circle cx="229.37" cy="108.60" r="0.8"/><circle cx="235.32" cy="121.27" r="0.8"/><circle cx="231.41" cy="119.53" r="0.8"/><circle cx="229.44" cy="120.46" r="0.8"/><circle cx="230.83" cy="125.62" r="0.8"/><circle cx="231.62" cy="124.79" r="0.8"/><circle cx="242.30" cy="125.25" r="0.8"/><circle cx="239.07" cy="120.48" r="0.8"/><circle cx="240.69" cy="127.24" r="0.8"/><circle cx="238.38" cy="122.25" r="0.8"/><circle cx="232.63" cy="124.29" r="0.8"/><circle cx="233.77" cy="125.34" r="0.8"/><circle cx="234.57" cy="133.27" r="0.8"/><circle cx="232.30" cy="122.35" r="0.8"/><circle cx="234.22" cy="129.19" r="0.8"/><circle cx="239.47" cy="123.55" r="0.8"/><circle cx="229.46" cy="132.59" r="0.8"/><circle cx="232.05" cy="123.11" r="0.8"/><circle cx="235.09" cy="125.44" r="0.8"/><circle cx="238.04" cy="131.82" r="0.8"/><circle cx="237.59" cy="127.51" r="0.8"/><circle cx="238.77" cy="117.71" r="0.8"/><circle cx="229.48" cy="118.62" r="0.8"/><circle cx="230.93" cy="138.31" r="0.8"/><circle cx="232.73" cy="113.31" r="0.8"/><circle cx="232.13" cy="123.04" r="0.8"/><circle cx="238.98" cy="135.66" r="0.8"/><circle cx="242.31" cy="110.49" r="0.8"/><circle cx="238.15" cy="120.22" r="0.8"/><circle cx="228.40" cy="121.08" r="0.8"/><circle cx="232.57" cy="115.32" r="0.8"/><circle cx="239.95" cy="124.74" r="0.8"/><circle cx="241.77" cy="126.35" r="0.8"/><circle cx="236.82" cy="122.33" r="0.8"/><circle cx="233.13" cy="117.94" r="0.8"/><circle cx="233.23" cy="130.68" r="0.8"/><circle cx="237.40" cy="129.58" r="0.8"/><circle cx="240.86" cy="125.57" r="0.8"/><circle cx="233.01" cy="120.05" r="0.8"/><circle cx="230.76" cy="125.71" r="0.8"/><circle cx="227.94" cy="126.44" r="0.8"/><circle cx="229.96" cy="124.64" r="0.8"/><circle cx="240.67" cy="131.52" r="0.8"/><circle cx="237.27" cy="123.61" r="0.8"/><circle cx="242.76" cy="126.08" r="0.8"/><circle cx="228.94" cy="117.71" r="0.8"/><circle cx="233.39" cy="125.70" r="0.8"/><circle cx="239.84" cy="129.33" r="0.8"/><circle cx="237.82" cy="129.13" r="0.8"/><circle cx="228.90" cy="121.42" r="0.8"/><circle cx="234.02" cy="139.25" r="0.8"/><circle cx="237.46" cy="128.43" r="0.8"/><circle cx="238.22" cy="126.19" r="0.8"/><circle cx="234.68" cy="123.88" r="0.8"/><circle cx="230.72" cy="130.24" r="0.8"/><circle cx="242.39" cy="119.92" r="0.8"/><circle cx="234.90" cy="127.20" r="0.8"/><circle cx="238.66" cy="128.91" r="0.8"/><circle cx="235.92" cy="126.24" r="0.8"/><circle cx="229.53" cy="132.21" r="0.8"/><circle cx="231.45" cy="125.25" r="0.8"/><circle cx="228.85" cy="124.69" r="0.8"/><circle cx="230.76" cy="122.04" r="0.8"/><circle cx="231.20" cy="133.52" r="0.8"/><circle cx="234.12" cy="123.27" r="0.8"/><circle cx="232.73" cy="128.95" r="0.8"/><circle cx="233.34" cy="124.56" r="0.8"/><circle cx="239.84" cy="134.68" r="0.8"/><circle cx="228.70" cy="135.70" r="0.8"/><circle cx="229.85" cy="112.63" r="0.8"/><circle cx="239.71" cy="138.62" r="0.8"/><circle cx="235.91" cy="126.10" r="0.8"/><circle cx="234.54" cy="115.29" r="0.8"/><circle cx="231.91" cy="126.38" r="0.8"/><circle cx="235.99" cy="114.06" r="0.8"/><circle cx="231.22" cy="126.81" r="0.8"/><circle cx="240.78" cy="120.58" r="0.8"/><circle cx="240.26" cy="124.69" r="0.8"/><circle cx="232.73" cy="123.24" r="0.8"/><circle cx="228.27" cy="126.75" r="0.8"/><circle cx="241.22" cy="130.12" r="0.8"/><circle cx="232.58" cy="134.10" r="0.8"/><circle cx="237.75" cy="123.21" r="0.8"/><circle cx="240.77" cy="126.03" r="0.8"/><circle cx="239.58" cy="107.13" r="0.8"/><circle cx="240.84" cy="124.72" r="0.8"/><circle cx="235.25" cy="134.60" r="0.8"/><circle cx="240.53" cy="118.34" r="0.8"/><circle cx="234.82" cy="130.81" r="0.8"/><circle cx="231.86" cy="127.57" r="0.8"/><circle cx="235.11" cy="122.96" r="0.8"/><circle cx="232.93" cy="129.37" r="0.8"/><circle cx="239.41" cy="122.92" r="0.8"/><circle cx="240.38" cy="131.24" r="0.8"/><circle cx="230.02" cy="117.37" r="0.8"/><circle cx="230.37" cy="117.83" r="0.8"/><circle cx="233.65" cy="129.32" r="0.8"/><circle cx="234.85" cy="124.88" r="0.8"/><circle cx="242.24" cy="117.66" r="0.8"/><circle cx="242.03" cy="125.15" r="0.8"/><circle cx="242.41" cy="122.68" r="0.8"/><circle cx="238.85" cy="127.00" r="0.8"/><circle cx="238.06" cy="129.02" r="0.8"/><circle cx="231.96" cy="131.23" r="0.8"/><circle cx="233.62" cy="114.47" r="0.8"/><circle cx="227.94" cy="127.49" r="0.8"/><circle cx="240.06" cy="138.93" r="0.8"/><circle cx="232.04" cy="124.97" r="0.8"/><circle cx="229.09" cy="129.18" r="0.8"/><circle cx="232.63" cy="116.38" r="0.8"/><circle cx="232.92" cy="132.07" r="0.8"/><circle cx="238.76" cy="128.16" r="0.8"/><circle cx="228.48" cy="132.44" r="0.8"/><circle cx="231.35" cy="130.35" r="0.8"/><circle cx="241.35" cy="131.68" r="0.8"/><circle cx="240.37" cy="114.54" r="0.8"/><circle cx="237.34" cy="129.19" r="0.8"/><circle cx="236.28" cy="119.77" r="0.8"/><circle cx="231.24" cy="121.86" r="0.8"/><circle cx="241.03" cy="123.18" r="0.8"/><circle cx="239.31" cy="127.16" r="0.8"/><circle cx="235.59" cy="127.43" r="0.8"/><circle cx="230.65" cy="134.00" r="0.8"/><circle cx="231.42" cy="108.92" r="0.8"/><circle cx="233.59" cy="119.64" r="0.8"/><circle cx="232.87" cy="123.60" r="0.8"/><circle cx="228.82" cy="129.72" r="0.8"/><circle cx="234.00" cy="125.29" r="0.8"/><circle cx="234.63" cy="124.85" r="0.8"/><circle cx="232.21" cy="128.84" r="0.8"/><circle cx="233.66" cy="126.44" r="0.8"/><circle cx="232.89" cy="121.65" r="0.8"/><circle cx="233.68" cy="115.91" r="0.8"/><circle cx="237.19" cy="125.07" r="0.8"/><circle cx="235.36" cy="131.97" r="0.8"/><circle cx="230.86" cy="127.92" r="0.8"/><circle cx="239.53" cy="113.95" r="0.8"/><circle cx="235.60" cy="124.27" r="0.8"/><circle cx="234.78" cy="124.48" r="0.8"/><circle cx="238.60" cy="126.40" r="0.8"/><circle cx="239.18" cy="126.43" r="0.8"/><circle cx="240.29" cy="136.00" r="0.8"/><circle cx="240.07" cy="122.99" r="0.8"/><circle cx="237.94" cy="123.52" r="0.8"/><circle cx="238.72" cy="126.21" r="0.8"/><circle cx="230.60" cy="132.11" r="0.8"/><circle cx="238.39" cy="128.48" r="0.8"/><circle cx="231.72" cy="124.23" r="0.8"/><circle cx="231.77" cy="129.47" r="0.8"/><circle cx="229.70" cy="125.56" r="0.8"/><circle cx="233.96" cy="136.15" r="0.8"/><circle cx="228.20" cy="121.88" r="0.8"/><circle cx="237.75" cy="118.93" r="0.8"/><circle cx="239.12" cy="130.77" r="0.8"/><circle cx="239.53" cy="121.48" r="0.8"/><circle cx="229.83" cy="130.61" r="0.8"/><circle cx="237.52" cy="127.15" r="0.8"/><circle cx="240.47" cy="125.26" r="0.8"/><circle cx="228.90" cy="115.61" r="0.8"/><circle cx="230.80" cy="129.42" r="0.8"/><circle cx="231.92" cy="116.14" r="0.8"/><circle cx="234.87" cy="136.94" r="0.8"/><circle cx="230.48" cy="130.32" r="0.8"/><circle cx="235.98" cy="124.21" r="0.8"/><circle cx="233.06" cy="117.88" r="0.8"/><circle cx="237.57" cy="132.49" r="0.8"/><circle cx="235.87" cy="125.98" r="0.8"/><circle cx="238.19" cy="119.06" r="0.8"/><circle cx="231.60" cy="125.51" r="0.8"/><circle cx="238.51" cy="120.92" r="0.8"/><circle cx="238.92" cy="124.59" r="0.8"/><circle cx="238.73" cy="126.85" r="0.8"/><circle cx="228.93" cy="131.51" r="0.8"/><circle cx="242.09" cy="131.48" r="0.8"/><circle cx="236.55" cy="120.00" r="0.8"/><circle cx="231.98" cy="126.23" r="0.8"/><circle cx="234.41" cy="124.78" r="0.8"/><circle cx="235.65" cy="139.47" r="0.8"/><circle cx="235.67" cy="117.84" r="0.8"/><circle cx="231.62" cy="126.54" r="0.8"/><circle cx="232.11" cy="133.01" r="0.8"/><circle cx="233.35" cy="123.40" r="0.8"/><circle cx="239.61" cy="121.79" r="0.8"/><circle cx="234.46" cy="124.84" r="0.8"/><circle cx="228.48" cy="121.90" r="0.8"/><circle cx="234.73" cy="133.64" r="0.8"/><circle cx="230.92" cy="116.20" r="0.8"/><circle cx="228.09" cy="120.69" r="0.8"/><circle cx="242.56" cy="116.64" r="0.8"/><circle cx="232.31" cy="129.55" r="0.8"/><circle cx="235.96" cy="123.23" r="0.8"/><circle cx="233.41" cy="132.35" r="0.8"/><circle cx="229.15" cy="132.92" r="0.8"/><circle cx="241.01" cy="133.58" r="0.8"/><circle cx="241.93" cy="121.60" r="0.8"/><circle cx="231.01" cy="105.01" r="0.8"/><circle cx="234.17" cy="123.19" r="0.8"/><circle cx="233.63" cy="135.64" r="0.8"/><circle cx="230.41" cy="128.34" r="0.8"/><circle cx="237.66" cy="115.38" r="0.8"/><circle cx="239.63" cy="129.18" r="0.8"/><circle cx="239.04" cy="132.67" r="0.8"/><circle cx="237.85" cy="136.31" r="0.8"/><circle cx="228.16" cy="127.85" r="0.8"/><circle cx="231.34" cy="130.48" r="0.8"/><circle cx="235.62" cy="129.87" r="0.8"/><circle cx="238.44" cy="124.44" r="0.8"/><circle cx="233.70" cy="118.86" r="0.8"/><circle cx="234.64" cy="128.86" r="0.8"/><circle cx="240.51" cy="118.41" r="0.8"/><circle cx="228.25" cy="124.36" r="0.8"/><circle cx="232.16" cy="139.59" r="0.8"/><circle cx="232.25" cy="126.74" r="0.8"/><circle cx="242.79" cy="125.87" r="0.8"/><circle cx="231.59" cy="134.95" r="0.8"/><circle cx="231.30" cy="52.30" r="0.8"/><circle cx="235.50" cy="52.40" r="0.8"/><circle cx="235.50" cy="51.20" r="0.8"/></g>
<rect x="234.10" y="104" width="2.6" height="37" fill="#111"/>
<rect x="233.70" y="122.00" width="3.4" height="6.40" fill="#dcdcd4" stroke="#222" stroke-width="0.6"/>
<line x1="233.70" y1="125.20" x2="237.10" y2="125.20" stroke="#222" stroke-width="1.1"/>
<line x1="276.60" y1="81.00" x2="276.60" y2="101.00" stroke="#222" stroke-width="0.8"/>
<path d="M277.10,100.70 L277.18,101.12 L277.28,101.53 L277.39,101.95 L277.52,102.37 L277.65,102.78 L277.80,103.20 L277.95,103.62 L278.11,104.03 L278.30,104.45 L278.53,104.87 L278.78,105.29 L279.04,105.70 L279.32,106.12 L279.59,106.54 L279.85,106.95 L280.09,107.37 L280.31,107.79 L280.48,108.20 L280.64,108.62 L280.79,109.04 L280.93,109.45 L281.06,109.87 L281.18,110.29 L281.30,110.70 L281.41,111.12 L281.53,111.54 L281.65,111.96 L281.77,112.37 L281.89,112.79 L282.03,113.21 L282.17,113.62 L282.33,114.04 L282.49,114.46 L282.67,114.87 L282.85,115.29 L283.05,115.71 L283.24,116.12 L283.44,116.54 L283.64,116.96 L283.84,117.37 L284.04,117.79 L284.24,118.21 L284.43,118.62 L284.61,119.04 L284.79,119.46 L284.95,119.88 L285.10,120.29 L285.24,120.71 L285.37,121.13 L285.50,121.54 L285.64,121.96 L285.77,122.38 L285.87,122.79 L285.95,123.21 L286.00,123.63 L285.99,124.04 L285.93,124.46 L285.82,124.88 L285.67,125.29 L285.50,125.71 L285.31,126.13 L285.11,126.54 L284.92,126.96 L284.70,127.38 L284.45,127.80 L284.15,128.21 L283.85,128.63 L283.54,129.05 L283.24,129.46 L282.97,129.88 L282.74,130.30 L282.52,130.71 L282.32,131.13 L282.12,131.55 L281.92,131.96 L281.72,132.38 L281.51,132.80 L281.28,133.21 L281.06,133.63 L280.83,134.05 L280.60,134.47 L280.36,134.88 L280.10,135.30 L279.81,135.72 L279.50,136.13 L279.13,136.55 L278.72,136.97 L278.27,137.38 L277.80,137.80 L275.40,137.80 L274.93,137.38 L274.48,136.97 L274.07,136.55 L273.70,136.13 L273.39,135.72 L273.10,135.30 L272.84,134.88 L272.60,134.47 L272.37,134.05 L272.14,133.63 L271.92,133.21 L271.69,132.80 L271.48,132.38 L271.28,131.96 L271.08,131.55 L270.88,131.13 L270.68,130.71 L270.46,130.30 L270.23,129.88 L269.96,129.46 L269.66,129.05 L269.35,128.63 L269.05,128.21 L268.75,127.80 L268.50,127.38 L268.28,126.96 L268.09,126.54 L267.89,126.13 L267.70,125.71 L267.53,125.29 L267.38,124.88 L267.27,124.46 L267.21,124.04 L267.20,123.63 L267.25,123.21 L267.33,122.79 L267.43,122.38 L267.56,121.96 L267.70,121.54 L267.83,121.13 L267.96,120.71 L268.10,120.29 L268.25,119.88 L268.41,119.46 L268.59,119.04 L268.77,118.62 L268.96,118.21 L269.16,117.79 L269.36,117.37 L269.56,116.96 L269.76,116.54 L269.96,116.12 L270.15,115.71 L270.35,115.29 L270.53,114.87 L270.71,114.46 L270.87,114.04 L271.03,113.62 L271.17,113.21 L271.31,112.79 L271.43,112.37 L271.55,111.96 L271.67,111.54 L271.79,111.12 L271.90,110.70 L272.02,110.29 L272.14,109.87 L272.27,109.45 L272.41,109.04 L272.56,108.62 L272.72,108.20 L272.89,107.79 L273.11,107.37 L273.35,106.95 L273.61,106.54 L273.88,106.12 L274.16,105.70 L274.42,105.29 L274.67,104.87 L274.90,104.45 L275.09,104.03 L275.25,103.62 L275.40,103.20 L275.55,102.78 L275.68,102.37 L275.81,101.95 L275.92,101.53 L276.02,101.12 L276.10,100.70Z" fill="#2ca536" stroke="#1a1a1a" stroke-width="0.6" stroke-linejoin="round"/>
<g fill="#0a0a0a"><circle cx="273.94" cy="106.94" r="1.0"/><circle cx="278.19" cy="120.76" r="1.0"/><circle cx="277.60" cy="125.17" r="1.0"/><circle cx="278.68" cy="112.05" r="1.0"/><circle cx="273.95" cy="129.34" r="1.0"/><circle cx="275.27" cy="113.41" r="1.0"/><circle cx="272.26" cy="126.76" r="1.0"/><circle cx="274.42" cy="111.56" r="1.0"/><circle cx="272.90" cy="131.69" r="1.0"/><circle cx="281.39" cy="113.96" r="1.0"/><circle cx="282.98" cy="127.08" r="1.0"/><circle cx="274.52" cy="128.48" r="1.0"/><circle cx="279.12" cy="115.53" r="1.0"/><circle cx="276.51" cy="109.76" r="1.0"/><circle cx="272.56" cy="123.21" r="1.0"/><circle cx="273.92" cy="121.88" r="1.0"/><circle cx="284.36" cy="119.96" r="1.0"/><circle cx="274.28" cy="128.63" r="1.0"/><circle cx="277.95" cy="120.64" r="1.0"/><circle cx="284.63" cy="122.26" r="1.0"/><circle cx="273.16" cy="120.46" r="1.0"/><circle cx="282.00" cy="121.28" r="1.0"/><circle cx="270.29" cy="119.49" r="1.0"/><circle cx="279.19" cy="112.75" r="1.0"/><circle cx="280.77" cy="116.18" r="1.0"/><circle cx="280.99" cy="115.49" r="1.0"/><circle cx="283.27" cy="116.68" r="1.0"/><circle cx="279.93" cy="127.73" r="1.0"/><circle cx="281.20" cy="109.91" r="1.0"/><circle cx="274.00" cy="113.76" r="1.0"/><circle cx="276.98" cy="121.83" r="1.0"/><circle cx="272.27" cy="117.98" r="1.0"/><circle cx="270.96" cy="116.11" r="1.0"/><circle cx="275.65" cy="118.42" r="1.0"/><circle cx="280.39" cy="120.88" r="1.0"/><circle cx="281.37" cy="126.30" r="1.0"/><circle cx="273.10" cy="135.82" r="1.0"/><circle cx="282.01" cy="130.74" r="1.0"/><circle cx="272.23" cy="120.94" r="1.0"/><circle cx="273.09" cy="120.25" r="1.0"/><circle cx="282.11" cy="119.79" r="1.0"/><circle cx="281.35" cy="114.24" r="1.0"/><circle cx="278.96" cy="133.25" r="1.0"/><circle cx="275.09" cy="108.82" r="1.0"/><circle cx="276.17" cy="113.53" r="1.0"/><circle cx="282.22" cy="126.70" r="1.0"/><circle cx="273.96" cy="123.80" r="1.0"/><circle cx="280.68" cy="115.91" r="1.0"/><circle cx="279.25" cy="133.88" r="1.0"/><circle cx="276.06" cy="120.80" r="1.0"/><circle cx="283.92" cy="124.22" r="1.0"/><circle cx="275.58" cy="108.55" r="1.0"/><circle cx="276.60" cy="81.00" r="1.0"/><circle cx="276.20" cy="80.50" r="1.0"/><circle cx="266.50" cy="113.00" r="1.0"/><circle cx="268.00" cy="118.00" r="1.0"/><circle cx="287.00" cy="130.00" r="1.0"/><circle cx="284.50" cy="134.50" r="1.0"/></g>
<rect x="275.10" y="117.30" width="3.0" height="8.70" fill="#dcdcd4" stroke="#222" stroke-width="0.6"/>
<line x1="275.10" y1="121.50" x2="278.10" y2="121.50" stroke="#222" stroke-width="1.1"/>
<path d="M318.60,85.70 L318.68,86.22 L318.76,86.74 L318.83,87.26 L318.88,87.78 L318.92,88.30 L318.95,88.81 L318.97,89.33 L318.99,89.85 L319.01,90.37 L319.02,90.89 L319.03,91.41 L319.05,91.93 L319.06,92.45 L319.07,92.97 L319.08,93.49 L319.10,94.01 L319.12,94.52 L319.14,95.04 L319.16,95.56 L319.19,96.08 L319.23,96.60 L319.30,97.12 L319.39,97.64 L319.50,98.16 L319.63,98.68 L319.77,99.20 L319.93,99.72 L320.10,100.23 L320.28,100.75 L320.46,101.27 L320.64,101.79 L320.83,102.31 L321.01,102.83 L321.19,103.35 L321.36,103.87 L321.53,104.39 L321.69,104.91 L321.86,105.43 L322.03,105.94 L322.20,106.46 L322.38,106.98 L322.56,107.50 L322.74,108.02 L322.92,108.54 L323.10,109.06 L323.27,109.58 L323.45,110.10 L323.63,110.62 L323.80,111.14 L323.97,111.66 L324.13,112.17 L324.29,112.69 L324.47,113.21 L324.67,113.73 L324.86,114.25 L325.06,114.77 L325.25,115.29 L325.42,115.81 L325.56,116.33 L325.68,116.85 L325.76,117.37 L325.80,117.88 L325.79,118.40 L325.74,118.92 L325.66,119.44 L325.55,119.96 L325.41,120.48 L325.25,121.00 L325.07,121.52 L324.88,122.04 L324.69,122.56 L324.48,123.08 L324.28,123.59 L324.07,124.11 L323.83,124.63 L323.56,125.15 L323.26,125.67 L322.93,126.19 L322.58,126.71 L322.22,127.23 L321.84,127.75 L321.45,128.27 L321.06,128.79 L320.63,129.30 L320.17,129.82 L319.69,130.34 L319.18,130.86 L318.65,131.38 L318.10,131.90 L316.50,131.90 L315.95,131.38 L315.42,130.86 L314.91,130.34 L314.43,129.82 L313.97,129.30 L313.54,128.79 L313.15,128.27 L312.76,127.75 L312.38,127.23 L312.02,126.71 L311.67,126.19 L311.34,125.67 L311.04,125.15 L310.77,124.63 L310.53,124.11 L310.32,123.59 L310.12,123.08 L309.91,122.56 L309.72,122.04 L309.53,121.52 L309.35,121.00 L309.19,120.48 L309.05,119.96 L308.94,119.44 L308.86,118.92 L308.81,118.40 L308.80,117.88 L308.84,117.37 L308.92,116.85 L309.04,116.33 L309.18,115.81 L309.35,115.29 L309.54,114.77 L309.74,114.25 L309.93,113.73 L310.13,113.21 L310.31,112.69 L310.47,112.17 L310.63,111.66 L310.80,111.14 L310.97,110.62 L311.15,110.10 L311.33,109.58 L311.50,109.06 L311.68,108.54 L311.86,108.02 L312.04,107.50 L312.22,106.98 L312.40,106.46 L312.57,105.94 L312.74,105.43 L312.91,104.91 L313.07,104.39 L313.24,103.87 L313.41,103.35 L313.59,102.83 L313.77,102.31 L313.96,101.79 L314.14,101.27 L314.32,100.75 L314.50,100.23 L314.67,99.72 L314.83,99.20 L314.97,98.68 L315.10,98.16 L315.21,97.64 L315.30,97.12 L315.37,96.60 L315.41,96.08 L315.44,95.56 L315.46,95.04 L315.48,94.52 L315.50,94.01 L315.52,93.49 L315.53,92.97 L315.54,92.45 L315.55,91.93 L315.57,91.41 L315.58,90.89 L315.59,90.37 L315.61,89.85 L315.63,89.33 L315.65,88.81 L315.68,88.30 L315.72,87.78 L315.77,87.26 L315.84,86.74 L315.92,86.22 L316.00,85.70Z" fill="#f0bc18" stroke="#1a1a1a" stroke-width="0.6" stroke-linejoin="round"/>
<g fill="#0a0a0a"><circle cx="321.25" cy="122.50" r="1.0"/><circle cx="314.02" cy="118.57" r="1.0"/><circle cx="318.40" cy="110.50" r="1.0"/><circle cx="317.25" cy="115.87" r="1.0"/><circle cx="311.33" cy="117.54" r="1.0"/><circle cx="321.57" cy="117.26" r="1.0"/><circle cx="318.71" cy="98.77" r="1.0"/><circle cx="315.00" cy="130.00" r="1.0"/><circle cx="315.22" cy="128.57" r="1.0"/><circle cx="318.80" cy="90.76" r="1.0"/><circle cx="320.55" cy="129.11" r="1.0"/><circle cx="323.35" cy="116.04" r="1.0"/><circle cx="317.31" cy="100.81" r="1.0"/><circle cx="315.35" cy="122.86" r="1.0"/><circle cx="316.50" cy="113.42" r="1.0"/><circle cx="312.11" cy="120.80" r="1.0"/><circle cx="317.25" cy="124.66" r="1.0"/><circle cx="312.97" cy="115.62" r="1.0"/><circle cx="315.61" cy="92.72" r="1.0"/><circle cx="315.61" cy="123.64" r="1.0"/><circle cx="310.02" cy="119.31" r="1.0"/><circle cx="316.96" cy="126.39" r="1.0"/><circle cx="319.47" cy="107.52" r="1.0"/><circle cx="319.71" cy="121.00" r="1.0"/><circle cx="323.26" cy="125.47" r="1.0"/><circle cx="322.41" cy="111.06" r="1.0"/><circle cx="319.16" cy="112.24" r="1.0"/><circle cx="322.13" cy="109.23" r="1.0"/><circle cx="317.02" cy="87.71" r="1.0"/><circle cx="320.36" cy="106.18" r="1.0"/><circle cx="314.51" cy="110.52" r="1.0"/><circle cx="317.47" cy="99.69" r="1.0"/><circle cx="324.79" cy="121.50" r="1.0"/><circle cx="318.75" cy="113.46" r="1.0"/><circle cx="317.41" cy="116.60" r="1.0"/><circle cx="320.61" cy="108.23" r="1.0"/><circle cx="314.84" cy="110.80" r="1.0"/><circle cx="322.47" cy="121.46" r="1.0"/><circle cx="309.75" cy="114.94" r="1.0"/><circle cx="312.89" cy="117.53" r="1.0"/><circle cx="312.71" cy="112.76" r="1.0"/><circle cx="313.30" cy="116.34" r="1.0"/><circle cx="322.56" cy="126.14" r="1.0"/><circle cx="312.18" cy="107.02" r="1.0"/><circle cx="314.10" cy="115.26" r="1.0"/><circle cx="318.53" cy="119.78" r="1.0"/><circle cx="318.32" cy="96.26" r="1.0"/><circle cx="317.30" cy="85.20" r="1.0"/><circle cx="318.50" cy="85.50" r="1.0"/><circle cx="313.00" cy="91.00" r="1.0"/><circle cx="323.00" cy="94.50" r="1.0"/><circle cx="310.00" cy="107.00" r="1.0"/><circle cx="325.50" cy="120.00" r="1.0"/><circle cx="312.00" cy="133.00" r="1.0"/></g>
<rect x="315.60" y="110.00" width="3.4" height="10.50" fill="#dcdcd4" stroke="#222" stroke-width="0.6"/>
<line x1="315.60" y1="115.20" x2="319.00" y2="115.20" stroke="#222" stroke-width="1.1"/>
<text x="361.60" y="16.60" font-size="12.3" text-anchor="middle" font-weight="bold" fill="#1e1e1e">C</text>
<line x1="382.50" y1="22.50" x2="382.50" y2="147.20" stroke="#2b2b2b" stroke-width="1.35"/>
<line x1="379.50" y1="141.30" x2="382.50" y2="141.30" stroke="#2b2b2b" stroke-width="1.0"/>
<text x="376.40" y="143.30" font-size="5.8" text-anchor="end" stroke="#1e1e1e" stroke-width="0.18" fill="#1e1e1e">0</text>
<line x1="379.50" y1="106.90" x2="382.50" y2="106.90" stroke="#2b2b2b" stroke-width="1.0"/>
<text x="376.40" y="108.90" font-size="5.8" text-anchor="end" stroke="#1e1e1e" stroke-width="0.18" textLength="7.20" lengthAdjust="spacingAndGlyphs" fill="#1e1e1e">10</text>
<line x1="379.50" y1="72.50" x2="382.50" y2="72.50" stroke="#2b2b2b" stroke-width="1.0"/>
<text x="376.40" y="74.50" font-size="5.8" text-anchor="end" stroke="#1e1e1e" stroke-width="0.18" textLength="7.20" lengthAdjust="spacingAndGlyphs" fill="#1e1e1e">20</text>
<line x1="379.50" y1="38.10" x2="382.50" y2="38.10" stroke="#2b2b2b" stroke-width="1.0"/>
<text x="376.40" y="40.10" font-size="5.8" text-anchor="end" stroke="#1e1e1e" stroke-width="0.18" textLength="7.20" lengthAdjust="spacingAndGlyphs" fill="#1e1e1e">30</text>
<line x1="381.90" y1="146.60" x2="513.30" y2="146.60" stroke="#2b2b2b" stroke-width="1.35"/>
<line x1="407.30" y1="146.60" x2="407.30" y2="149.60" stroke="#2b2b2b" stroke-width="1.0"/>
<line x1="448.00" y1="146.60" x2="448.00" y2="149.60" stroke="#2b2b2b" stroke-width="1.0"/>
<line x1="488.70" y1="146.60" x2="488.70" y2="149.60" stroke="#2b2b2b" stroke-width="1.0"/>
<text x="407.00" y="158.60" font-size="6.0" text-anchor="middle" stroke="#1e1e1e" stroke-width="0.15" textLength="15.90" lengthAdjust="spacingAndGlyphs" fill="#1e1e1e">Dx FL</text>
<text x="407.00" y="165.70" font-size="6.0" text-anchor="middle" stroke="#1e1e1e" stroke-width="0.15" textLength="25.60" lengthAdjust="spacingAndGlyphs" fill="#1e1e1e">(n = 231)</text>
<text x="447.60" y="158.60" font-size="6.0" text-anchor="middle" stroke="#1e1e1e" stroke-width="0.15" textLength="27.60" lengthAdjust="spacingAndGlyphs" fill="#1e1e1e">Rel/ref FL</text>
<text x="447.60" y="165.70" font-size="6.0" text-anchor="middle" stroke="#1e1e1e" stroke-width="0.15" textLength="22.20" lengthAdjust="spacingAndGlyphs" fill="#1e1e1e">(n = 52)</text>
<text x="488.70" y="158.60" font-size="6.0" text-anchor="middle" stroke="#1e1e1e" stroke-width="0.15" textLength="13.20" lengthAdjust="spacingAndGlyphs" fill="#1e1e1e">t–FL</text>
<text x="488.70" y="165.70" font-size="6.0" text-anchor="middle" stroke="#1e1e1e" stroke-width="0.15" textLength="22.30" lengthAdjust="spacingAndGlyphs" fill="#1e1e1e">(n = 47)</text>
<text x="448.50" y="177.60" font-size="7.5" text-anchor="middle" stroke="#1e1e1e" stroke-width="0.3" textLength="46.60" lengthAdjust="spacingAndGlyphs" fill="#1e1e1e">Lymphoma subset</text>
<text x="363.80" y="81.00" font-size="7.6" text-anchor="middle" stroke="#1e1e1e" stroke-width="0.3" textLength="83.90" lengthAdjust="spacingAndGlyphs" transform="rotate(-90 363.80 81.00)" fill="#1e1e1e"># of multi–hit genes per sample</text>
<line x1="407.30" y1="38.10" x2="488.70" y2="38.10" stroke="#333" stroke-width="1.0"/>
<line x1="407.30" y1="35.80" x2="407.30" y2="40.40" stroke="#333" stroke-width="1.0"/>
<line x1="448.00" y1="35.80" x2="448.00" y2="40.40" stroke="#333" stroke-width="1.0"/>
<line x1="488.70" y1="35.80" x2="488.70" y2="40.40" stroke="#333" stroke-width="1.0"/>
<text x="447.50" y="30.50" font-size="6.7" text-anchor="middle" fill="#1e1e1e" stroke="#1e1e1e" stroke-width="0.12" textLength="23.40" lengthAdjust="spacingAndGlyphs"><tspan font-style="italic">P</tspan> = .437</text>
<line x1="407.30" y1="51.00" x2="407.30" y2="134.00" stroke="#222" stroke-width="0.9"/>
<rect x="406.10" y="101.5" width="2.4" height="39" fill="#111"/>
<path d="M405.80,102 L408.80,102 L408.80,110 L405.80,110Z" fill="#111"/>
<path d="M406.10,118 L408.50,118 L412.30,136 L402.30,136Z" fill="#111"/>
<path d="M407.90,131.00 L407.91,131.12 L407.92,131.23 L407.95,131.35 L407.98,131.46 L408.03,131.58 L408.08,131.69 L408.14,131.81 L408.22,131.93 L408.30,132.04 L408.39,132.16 L408.49,132.27 L408.59,132.39 L408.71,132.50 L408.84,132.62 L408.97,132.74 L409.11,132.85 L409.26,132.97 L409.49,133.08 L410.02,133.20 L410.78,133.31 L411.72,133.43 L412.78,133.55 L413.91,133.66 L415.04,133.78 L416.12,133.89 L417.10,134.01 L417.90,134.12 L418.48,134.24 L418.77,134.36 L418.72,134.47 L418.27,134.59 L417.52,134.70 L416.55,134.82 L415.45,134.93 L414.30,135.05 L413.18,135.17 L412.19,135.28 L411.41,135.40 L410.92,135.51 L410.80,135.63 L410.84,135.74 L410.93,135.86 L411.08,135.98 L411.27,136.09 L411.51,136.21 L411.80,136.32 L412.13,136.44 L412.50,136.56 L412.92,136.67 L413.37,136.79 L413.87,136.90 L414.40,137.02 L414.96,137.13 L415.67,137.25 L417.26,137.37 L419.50,137.48 L421.92,137.60 L424.05,137.71 L425.43,137.83 L425.64,137.94 L424.98,138.06 L423.74,138.18 L422.12,138.29 L420.30,138.41 L418.49,138.52 L416.87,138.64 L415.64,138.75 L414.87,138.87 L414.21,138.99 L413.60,139.10 L413.04,139.22 L412.53,139.33 L412.05,139.45 L411.62,139.56 L411.23,139.68 L410.87,139.80 L410.54,139.91 L410.23,140.03 L409.94,140.14 L409.65,140.26 L409.38,140.37 L409.12,140.49 L408.87,140.61 L408.65,140.72 L408.45,140.84 L408.27,140.95 L408.11,141.07 L407.99,141.18 L407.90,141.30 L406.70,141.30 L406.61,141.18 L406.49,141.07 L406.33,140.95 L406.15,140.84 L405.95,140.72 L405.73,140.61 L405.48,140.49 L405.22,140.37 L404.95,140.26 L404.66,140.14 L404.37,140.03 L404.06,139.91 L403.73,139.80 L403.37,139.68 L402.98,139.56 L402.55,139.45 L402.07,139.33 L401.56,139.22 L401.00,139.10 L400.39,138.99 L399.73,138.87 L398.96,138.75 L397.73,138.64 L396.11,138.52 L394.30,138.41 L392.48,138.29 L390.86,138.18 L389.62,138.06 L388.96,137.94 L389.17,137.83 L390.55,137.71 L392.68,137.60 L395.10,137.48 L397.34,137.37 L398.93,137.25 L399.64,137.13 L400.20,137.02 L400.73,136.90 L401.23,136.79 L401.68,136.67 L402.10,136.56 L402.47,136.44 L402.80,136.32 L403.09,136.21 L403.33,136.09 L403.52,135.98 L403.67,135.86 L403.76,135.74 L403.80,135.63 L403.68,135.51 L403.19,135.40 L402.41,135.28 L401.42,135.17 L400.30,135.05 L399.15,134.93 L398.05,134.82 L397.08,134.70 L396.33,134.59 L395.88,134.47 L395.83,134.36 L396.12,134.24 L396.70,134.12 L397.50,134.01 L398.48,133.89 L399.56,133.78 L400.69,133.66 L401.82,133.55 L402.88,133.43 L403.82,133.31 L404.58,133.20 L405.11,133.08 L405.34,132.97 L405.49,132.85 L405.63,132.74 L405.76,132.62 L405.89,132.50 L406.01,132.39 L406.11,132.27 L406.21,132.16 L406.30,132.04 L406.38,131.93 L406.46,131.81 L406.52,131.69 L406.57,131.58 L406.62,131.46 L406.65,131.35 L406.68,131.23 L406.69,131.12 L406.70,131.00Z" fill="#cf0c35" stroke="#1a1a1a" stroke-width="0.5" stroke-linejoin="round"/>
<g fill="#0a0a0a"><circle cx="407.94" cy="132.66" r="1.0"/><circle cx="411.05" cy="137.58" r="1.0"/><circle cx="397.55" cy="136.59" r="1.0"/><circle cx="400.55" cy="128.19" r="1.0"/><circle cx="402.71" cy="141.36" r="1.0"/><circle cx="403.57" cy="141.38" r="1.0"/><circle cx="415.71" cy="137.24" r="1.0"/><circle cx="405.25" cy="133.69" r="1.0"/><circle cx="410.80" cy="116.30" r="1.0"/><circle cx="402.77" cy="129.73" r="1.0"/><circle cx="398.85" cy="134.84" r="1.0"/><circle cx="419.80" cy="133.52" r="1.0"/><circle cx="411.11" cy="131.21" r="1.0"/><circle cx="400.69" cy="134.17" r="1.0"/><circle cx="405.90" cy="137.24" r="1.0"/><circle cx="418.88" cy="139.58" r="1.0"/><circle cx="409.59" cy="138.16" r="1.0"/><circle cx="404.98" cy="131.11" r="1.0"/><circle cx="412.57" cy="134.56" r="1.0"/><circle cx="408.97" cy="128.16" r="1.0"/><circle cx="395.11" cy="142.63" r="1.0"/><circle cx="415.30" cy="124.98" r="1.0"/><circle cx="413.38" cy="136.59" r="1.0"/><circle cx="406.83" cy="119.93" r="1.0"/><circle cx="403.78" cy="135.29" r="1.0"/><circle cx="402.48" cy="134.30" r="1.0"/><circle cx="399.67" cy="127.40" r="1.0"/><circle cx="407.84" cy="133.79" r="1.0"/><circle cx="404.42" cy="132.68" r="1.0"/><circle cx="400.04" cy="136.91" r="1.0"/><circle cx="402.45" cy="135.50" r="1.0"/><circle cx="419.80" cy="138.16" r="1.0"/><circle cx="403.00" cy="140.92" r="1.0"/><circle cx="413.69" cy="137.04" r="1.0"/><circle cx="416.02" cy="135.69" r="1.0"/><circle cx="407.72" cy="138.44" r="1.0"/><circle cx="410.30" cy="132.38" r="1.0"/><circle cx="400.99" cy="142.36" r="1.0"/><circle cx="405.05" cy="140.61" r="1.0"/><circle cx="407.71" cy="103.27" r="1.0"/><circle cx="401.38" cy="136.42" r="1.0"/><circle cx="401.65" cy="135.73" r="1.0"/><circle cx="419.08" cy="138.45" r="1.0"/><circle cx="414.42" cy="137.39" r="1.0"/><circle cx="406.84" cy="138.11" r="1.0"/><circle cx="402.97" cy="130.09" r="1.0"/><circle cx="407.88" cy="141.01" r="1.0"/><circle cx="403.05" cy="127.89" r="1.0"/><circle cx="406.25" cy="107.82" r="1.0"/><circle cx="407.27" cy="134.15" r="1.0"/><circle cx="408.07" cy="137.71" r="1.0"/><circle cx="403.29" cy="137.50" r="1.0"/><circle cx="411.80" cy="138.44" r="1.0"/><circle cx="415.02" cy="136.34" r="1.0"/><circle cx="405.73" cy="127.17" r="1.0"/><circle cx="408.33" cy="140.89" r="1.0"/><circle cx="405.25" cy="131.68" r="1.0"/><circle cx="408.01" cy="129.93" r="1.0"/><circle cx="415.31" cy="142.20" r="1.0"/><circle cx="403.86" cy="142.05" r="1.0"/><circle cx="404.36" cy="131.99" r="1.0"/><circle cx="406.43" cy="130.26" r="1.0"/><circle cx="405.06" cy="137.17" r="1.0"/><circle cx="408.07" cy="127.70" r="1.0"/><circle cx="407.51" cy="137.36" r="1.0"/><circle cx="394.80" cy="137.94" r="1.0"/><circle cx="395.92" cy="141.52" r="1.0"/><circle cx="414.08" cy="134.67" r="1.0"/><circle cx="404.96" cy="141.14" r="1.0"/><circle cx="406.50" cy="137.37" r="1.0"/><circle cx="404.96" cy="130.15" r="1.0"/><circle cx="414.43" cy="134.41" r="1.0"/><circle cx="413.04" cy="134.19" r="1.0"/><circle cx="407.59" cy="130.83" r="1.0"/><circle cx="410.08" cy="135.16" r="1.0"/><circle cx="408.74" cy="137.25" r="1.0"/><circle cx="404.18" cy="132.47" r="1.0"/><circle cx="405.62" cy="141.04" r="1.0"/><circle cx="416.09" cy="138.84" r="1.0"/><circle cx="410.50" cy="134.06" r="1.0"/><circle cx="419.80" cy="141.65" r="1.0"/><circle cx="410.58" cy="141.15" r="1.0"/><circle cx="398.81" cy="133.22" r="1.0"/><circle cx="408.93" cy="131.33" r="1.0"/><circle cx="405.86" cy="136.81" r="1.0"/><circle cx="398.65" cy="137.56" r="1.0"/><circle cx="398.56" cy="138.67" r="1.0"/><circle cx="414.22" cy="136.97" r="1.0"/><circle cx="412.57" cy="133.89" r="1.0"/><circle cx="403.81" cy="117.55" r="1.0"/><circle cx="403.73" cy="141.14" r="1.0"/><circle cx="411.17" cy="124.65" r="1.0"/><circle cx="409.65" cy="107.09" r="1.0"/><circle cx="411.27" cy="139.16" r="1.0"/><circle cx="403.04" cy="130.57" r="1.0"/><circle cx="401.75" cy="129.00" r="1.0"/><circle cx="415.08" cy="135.10" r="1.0"/><circle cx="400.11" cy="138.02" r="1.0"/><circle cx="405.89" cy="134.49" r="1.0"/><circle cx="406.55" cy="124.57" r="1.0"/><circle cx="404.93" cy="142.07" r="1.0"/><circle cx="408.75" cy="134.16" r="1.0"/><circle cx="406.63" cy="140.90" r="1.0"/><circle cx="410.56" cy="127.30" r="1.0"/><circle cx="408.48" cy="130.63" r="1.0"/><circle cx="398.39" cy="142.12" r="1.0"/><circle cx="403.07" cy="131.59" r="1.0"/><circle cx="408.98" cy="129.49" r="1.0"/><circle cx="401.63" cy="140.84" r="1.0"/><circle cx="402.38" cy="133.36" r="1.0"/><circle cx="410.26" cy="130.76" r="1.0"/><circle cx="409.61" cy="137.47" r="1.0"/><circle cx="409.13" cy="133.74" r="1.0"/><circle cx="407.19" cy="110.86" r="1.0"/><circle cx="407.57" cy="134.01" r="1.0"/><circle cx="400.78" cy="134.57" r="1.0"/><circle cx="409.37" cy="141.07" r="1.0"/><circle cx="402.68" cy="141.79" r="1.0"/><circle cx="415.30" cy="127.27" r="1.0"/><circle cx="408.65" cy="131.32" r="1.0"/><circle cx="399.30" cy="127.65" r="1.0"/><circle cx="403.06" cy="135.67" r="1.0"/><circle cx="405.78" cy="133.72" r="1.0"/><circle cx="405.99" cy="134.57" r="1.0"/><circle cx="405.06" cy="130.93" r="1.0"/><circle cx="399.18" cy="137.66" r="1.0"/><circle cx="411.95" cy="136.19" r="1.0"/><circle cx="411.54" cy="134.66" r="1.0"/><circle cx="414.40" cy="135.34" r="1.0"/><circle cx="417.28" cy="138.83" r="1.0"/><circle cx="406.59" cy="141.53" r="1.0"/><circle cx="408.37" cy="141.57" r="1.0"/><circle cx="408.50" cy="137.16" r="1.0"/><circle cx="399.30" cy="126.94" r="1.0"/><circle cx="399.30" cy="131.04" r="1.0"/><circle cx="407.32" cy="129.47" r="1.0"/><circle cx="411.43" cy="135.20" r="1.0"/><circle cx="407.88" cy="142.80" r="1.0"/><circle cx="418.53" cy="133.33" r="1.0"/><circle cx="411.45" cy="127.94" r="1.0"/><circle cx="409.81" cy="135.26" r="1.0"/><circle cx="402.98" cy="133.89" r="1.0"/><circle cx="402.34" cy="137.18" r="1.0"/><circle cx="406.71" cy="136.55" r="1.0"/><circle cx="401.03" cy="134.94" r="1.0"/><circle cx="406.87" cy="134.76" r="1.0"/><circle cx="395.96" cy="137.15" r="1.0"/><circle cx="403.97" cy="137.89" r="1.0"/><circle cx="404.95" cy="131.82" r="1.0"/><circle cx="406.95" cy="137.88" r="1.0"/><circle cx="407.38" cy="135.06" r="1.0"/><circle cx="404.47" cy="138.87" r="1.0"/><circle cx="409.14" cy="131.12" r="1.0"/><circle cx="407.55" cy="138.33" r="1.0"/><circle cx="413.39" cy="135.27" r="1.0"/><circle cx="408.80" cy="121.45" r="1.0"/><circle cx="407.77" cy="132.11" r="1.0"/><circle cx="407.19" cy="129.11" r="1.0"/><circle cx="415.33" cy="137.96" r="1.0"/><circle cx="402.62" cy="127.36" r="1.0"/><circle cx="402.00" cy="139.75" r="1.0"/><circle cx="409.29" cy="105.49" r="1.0"/><circle cx="409.48" cy="123.74" r="1.0"/><circle cx="418.80" cy="133.47" r="1.0"/><circle cx="399.30" cy="127.60" r="1.0"/><circle cx="405.21" cy="134.05" r="1.0"/><circle cx="399.30" cy="131.36" r="1.0"/><circle cx="417.34" cy="139.58" r="1.0"/><circle cx="411.98" cy="106.39" r="1.0"/><circle cx="415.30" cy="127.93" r="1.0"/><circle cx="406.17" cy="138.85" r="1.0"/><circle cx="410.46" cy="137.33" r="1.0"/><circle cx="411.56" cy="133.96" r="1.0"/><circle cx="400.15" cy="132.81" r="1.0"/><circle cx="405.20" cy="137.31" r="1.0"/><circle cx="408.65" cy="112.38" r="1.0"/><circle cx="399.18" cy="137.41" r="1.0"/><circle cx="405.22" cy="103.52" r="1.0"/><circle cx="411.79" cy="130.55" r="1.0"/><circle cx="410.26" cy="134.96" r="1.0"/><circle cx="400.80" cy="138.07" r="1.0"/><circle cx="401.64" cy="142.26" r="1.0"/><circle cx="410.03" cy="141.31" r="1.0"/><circle cx="399.26" cy="134.52" r="1.0"/><circle cx="404.23" cy="131.62" r="1.0"/><circle cx="406.82" cy="123.37" r="1.0"/><circle cx="412.85" cy="138.51" r="1.0"/><circle cx="404.93" cy="121.71" r="1.0"/><circle cx="405.51" cy="137.58" r="1.0"/><circle cx="407.80" cy="119.98" r="1.0"/><circle cx="405.53" cy="120.52" r="1.0"/><circle cx="416.48" cy="139.21" r="1.0"/><circle cx="406.26" cy="128.99" r="1.0"/><circle cx="407.13" cy="131.32" r="1.0"/><circle cx="410.83" cy="131.24" r="1.0"/><circle cx="415.30" cy="127.76" r="1.0"/><circle cx="400.11" cy="135.59" r="1.0"/><circle cx="404.83" cy="134.15" r="1.0"/><circle cx="394.80" cy="138.76" r="1.0"/><circle cx="410.57" cy="128.26" r="1.0"/><circle cx="411.21" cy="125.62" r="1.0"/><circle cx="407.02" cy="138.70" r="1.0"/><circle cx="404.32" cy="130.66" r="1.0"/><circle cx="413.64" cy="138.21" r="1.0"/><circle cx="399.30" cy="138.19" r="1.0"/><circle cx="406.20" cy="137.12" r="1.0"/><circle cx="409.91" cy="134.06" r="1.0"/><circle cx="397.88" cy="136.86" r="1.0"/><circle cx="417.92" cy="136.50" r="1.0"/><circle cx="408.64" cy="141.85" r="1.0"/><circle cx="411.14" cy="136.76" r="1.0"/><circle cx="406.01" cy="131.11" r="1.0"/><circle cx="412.10" cy="140.72" r="1.0"/><circle cx="400.32" cy="135.32" r="1.0"/><circle cx="413.93" cy="134.75" r="1.0"/><circle cx="403.65" cy="141.67" r="1.0"/><circle cx="407.96" cy="138.61" r="1.0"/><circle cx="402.30" cy="124.20" r="1.0"/><circle cx="406.66" cy="102.46" r="1.0"/><circle cx="408.16" cy="127.57" r="1.0"/><circle cx="404.84" cy="138.22" r="1.0"/><circle cx="401.62" cy="130.93" r="1.0"/><circle cx="409.89" cy="134.68" r="1.0"/><circle cx="413.76" cy="136.78" r="1.0"/><circle cx="398.25" cy="134.64" r="1.0"/><circle cx="409.12" cy="122.57" r="1.0"/><circle cx="409.77" cy="123.31" r="1.0"/><circle cx="412.14" cy="137.10" r="1.0"/><circle cx="398.38" cy="143.65" r="1.0"/><circle cx="408.60" cy="124.74" r="1.0"/><circle cx="409.55" cy="108.53" r="1.0"/><circle cx="401.50" cy="51.50" r="1.0"/><circle cx="407.30" cy="52.00" r="1.0"/><circle cx="407.50" cy="51.00" r="1.0"/></g>
<rect x="405.60" y="135.00" width="3.4" height="2.20" fill="#dcdcd4" stroke="#222" stroke-width="0.6"/>
<line x1="405.60" y1="136.20" x2="409.00" y2="136.20" stroke="#222" stroke-width="1.1"/>
<line x1="448.00" y1="102.50" x2="448.00" y2="122.00" stroke="#222" stroke-width="0.8"/>
<line x1="448.00" y1="102.50" x2="448.00" y2="121.00" stroke="#555" stroke-width="1.4"/>
<path d="M448.60,119.80 L448.71,120.04 L448.82,120.28 L448.94,120.52 L449.05,120.77 L449.17,121.01 L449.29,121.25 L449.40,121.49 L449.52,121.73 L449.65,121.97 L449.77,122.22 L449.89,122.46 L450.02,122.70 L450.14,122.94 L450.27,123.18 L450.40,123.42 L450.52,123.67 L450.65,123.91 L450.79,124.15 L450.92,124.39 L451.05,124.63 L451.18,124.87 L451.32,125.11 L451.47,125.36 L451.61,125.60 L451.77,125.84 L451.92,126.08 L452.08,126.32 L452.24,126.56 L452.41,126.81 L452.57,127.05 L452.74,127.29 L452.90,127.53 L453.07,127.77 L453.23,128.01 L453.39,128.26 L453.55,128.50 L453.71,128.74 L453.86,128.98 L454.01,129.22 L454.16,129.46 L454.30,129.70 L454.43,129.95 L454.56,130.19 L454.68,130.43 L454.79,130.67 L454.90,130.91 L455.01,131.15 L455.12,131.40 L455.24,131.64 L455.35,131.88 L455.46,132.12 L455.57,132.36 L455.68,132.60 L455.78,132.84 L455.88,133.09 L455.97,133.33 L456.05,133.57 L456.12,133.81 L456.19,134.05 L456.23,134.29 L456.27,134.54 L456.29,134.78 L456.30,135.02 L456.29,135.26 L456.28,135.50 L456.25,135.74 L456.21,135.99 L456.17,136.23 L456.12,136.47 L456.06,136.71 L455.99,136.95 L455.92,137.19 L455.85,137.43 L455.77,137.68 L455.70,137.92 L455.61,138.16 L455.53,138.40 L455.45,138.64 L455.35,138.88 L455.24,139.13 L455.12,139.37 L454.98,139.61 L454.83,139.85 L454.68,140.09 L454.52,140.33 L454.34,140.58 L454.17,140.82 L453.99,141.06 L453.80,141.30 L442.20,141.30 L442.01,141.06 L441.83,140.82 L441.66,140.58 L441.48,140.33 L441.32,140.09 L441.17,139.85 L441.02,139.61 L440.88,139.37 L440.76,139.13 L440.65,138.88 L440.55,138.64 L440.47,138.40 L440.39,138.16 L440.30,137.92 L440.23,137.68 L440.15,137.43 L440.08,137.19 L440.01,136.95 L439.94,136.71 L439.88,136.47 L439.83,136.23 L439.79,135.99 L439.75,135.74 L439.72,135.50 L439.71,135.26 L439.70,135.02 L439.71,134.78 L439.73,134.54 L439.77,134.29 L439.81,134.05 L439.88,133.81 L439.95,133.57 L440.03,133.33 L440.12,133.09 L440.22,132.84 L440.32,132.60 L440.43,132.36 L440.54,132.12 L440.65,131.88 L440.76,131.64 L440.88,131.40 L440.99,131.15 L441.10,130.91 L441.21,130.67 L441.32,130.43 L441.44,130.19 L441.57,129.95 L441.70,129.70 L441.84,129.46 L441.99,129.22 L442.14,128.98 L442.29,128.74 L442.45,128.50 L442.61,128.26 L442.77,128.01 L442.93,127.77 L443.10,127.53 L443.26,127.29 L443.43,127.05 L443.59,126.81 L443.76,126.56 L443.92,126.32 L444.08,126.08 L444.23,125.84 L444.39,125.60 L444.53,125.36 L444.68,125.11 L444.82,124.87 L444.95,124.63 L445.08,124.39 L445.21,124.15 L445.35,123.91 L445.48,123.67 L445.60,123.42 L445.73,123.18 L445.86,122.94 L445.98,122.70 L446.11,122.46 L446.23,122.22 L446.35,121.97 L446.48,121.73 L446.60,121.49 L446.71,121.25 L446.83,121.01 L446.95,120.77 L447.06,120.52 L447.18,120.28 L447.29,120.04 L447.40,119.80Z" fill="#2ca536" stroke="#1a1a1a" stroke-width="0.6" stroke-linejoin="round"/>
<g fill="#0a0a0a"><circle cx="441.52" cy="133.03" r="1.0"/><circle cx="453.38" cy="134.23" r="1.0"/><circle cx="442.77" cy="131.32" r="1.0"/><circle cx="440.00" cy="140.60" r="1.0"/><circle cx="451.37" cy="137.93" r="1.0"/><circle cx="445.79" cy="131.84" r="1.0"/><circle cx="443.33" cy="138.12" r="1.0"/><circle cx="445.76" cy="133.66" r="1.0"/><circle cx="450.09" cy="136.97" r="1.0"/><circle cx="456.00" cy="133.89" r="1.0"/><circle cx="456.00" cy="126.56" r="1.0"/><circle cx="450.73" cy="129.90" r="1.0"/><circle cx="441.96" cy="134.56" r="1.0"/><circle cx="451.05" cy="136.71" r="1.0"/><circle cx="453.33" cy="130.26" r="1.0"/><circle cx="448.59" cy="131.32" r="1.0"/><circle cx="450.68" cy="132.80" r="1.0"/><circle cx="455.28" cy="128.05" r="1.0"/><circle cx="446.08" cy="130.06" r="1.0"/><circle cx="440.38" cy="115.99" r="1.0"/><circle cx="450.45" cy="130.67" r="1.0"/><circle cx="442.91" cy="123.63" r="1.0"/><circle cx="455.04" cy="134.12" r="1.0"/><circle cx="445.37" cy="132.20" r="1.0"/><circle cx="450.08" cy="127.58" r="1.0"/><circle cx="445.26" cy="139.90" r="1.0"/><circle cx="442.73" cy="133.99" r="1.0"/><circle cx="447.01" cy="134.74" r="1.0"/><circle cx="450.48" cy="141.50" r="1.0"/><circle cx="448.99" cy="130.07" r="1.0"/><circle cx="440.00" cy="130.51" r="1.0"/><circle cx="443.71" cy="123.51" r="1.0"/><circle cx="446.76" cy="136.74" r="1.0"/><circle cx="443.00" cy="134.33" r="1.0"/><circle cx="448.52" cy="123.51" r="1.0"/><circle cx="450.24" cy="137.66" r="1.0"/><circle cx="443.41" cy="127.58" r="1.0"/><circle cx="456.00" cy="137.25" r="1.0"/><circle cx="453.25" cy="139.10" r="1.0"/><circle cx="454.74" cy="137.12" r="1.0"/><circle cx="456.00" cy="137.96" r="1.0"/><circle cx="446.86" cy="134.21" r="1.0"/><circle cx="450.71" cy="137.91" r="1.0"/><circle cx="447.20" cy="128.70" r="1.0"/><circle cx="444.75" cy="116.28" r="1.0"/><circle cx="451.57" cy="141.93" r="1.0"/><circle cx="452.92" cy="140.34" r="1.0"/><circle cx="452.87" cy="141.73" r="1.0"/><circle cx="455.93" cy="122.98" r="1.0"/><circle cx="448.98" cy="141.05" r="1.0"/><circle cx="440.85" cy="130.34" r="1.0"/><circle cx="453.07" cy="137.44" r="1.0"/><circle cx="443.00" cy="102.00" r="1.0"/><circle cx="448.00" cy="103.00" r="1.0"/><circle cx="442.50" cy="116.00" r="1.0"/><circle cx="456.00" cy="124.00" r="1.0"/><circle cx="448.00" cy="113.00" r="1.0"/></g>
<rect x="446.30" y="132.00" width="3.4" height="7.00" fill="#dcdcd4" stroke="#222" stroke-width="0.6"/>
<line x1="446.30" y1="136.00" x2="449.70" y2="136.00" stroke="#222" stroke-width="1.1"/>
<line x1="488.70" y1="99.60" x2="488.70" y2="124.00" stroke="#222" stroke-width="0.8"/>
<line x1="488.70" y1="100.00" x2="488.70" y2="122.00" stroke="#555" stroke-width="1.4"/>
<path d="M489.30,121.30 L489.43,121.52 L489.55,121.75 L489.68,121.97 L489.80,122.20 L489.92,122.42 L490.05,122.65 L490.17,122.87 L490.29,123.10 L490.41,123.32 L490.53,123.55 L490.64,123.77 L490.76,124.00 L490.88,124.22 L490.99,124.45 L491.10,124.67 L491.22,124.90 L491.33,125.12 L491.44,125.34 L491.55,125.57 L491.66,125.79 L491.77,126.02 L491.87,126.24 L491.98,126.47 L492.09,126.69 L492.19,126.92 L492.30,127.14 L492.40,127.37 L492.51,127.59 L492.61,127.82 L492.71,128.04 L492.81,128.27 L492.92,128.49 L493.02,128.72 L493.11,128.94 L493.21,129.17 L493.31,129.39 L493.40,129.61 L493.50,129.84 L493.59,130.06 L493.68,130.29 L493.77,130.51 L493.86,130.74 L493.94,130.96 L494.02,131.19 L494.10,131.41 L494.18,131.64 L494.26,131.86 L494.34,132.09 L494.41,132.31 L494.48,132.54 L494.55,132.76 L494.62,132.99 L494.69,133.21 L494.76,133.43 L494.83,133.66 L494.89,133.88 L494.95,134.11 L495.02,134.33 L495.08,134.56 L495.14,134.78 L495.20,135.01 L495.27,135.23 L495.33,135.46 L495.41,135.68 L495.48,135.91 L495.55,136.13 L495.62,136.36 L495.69,136.58 L495.75,136.81 L495.80,137.03 L495.84,137.26 L495.87,137.48 L495.89,137.70 L495.90,137.93 L495.89,138.15 L495.87,138.38 L495.84,138.60 L495.80,138.83 L495.75,139.05 L495.69,139.28 L495.62,139.50 L495.54,139.73 L495.45,139.95 L495.35,140.18 L495.23,140.40 L495.11,140.63 L494.99,140.85 L494.85,141.08 L494.70,141.30 L482.70,141.30 L482.55,141.08 L482.41,140.85 L482.29,140.63 L482.17,140.40 L482.05,140.18 L481.95,139.95 L481.86,139.73 L481.78,139.50 L481.71,139.28 L481.65,139.05 L481.60,138.83 L481.56,138.60 L481.53,138.38 L481.51,138.15 L481.50,137.93 L481.51,137.70 L481.53,137.48 L481.56,137.26 L481.60,137.03 L481.65,136.81 L481.71,136.58 L481.78,136.36 L481.85,136.13 L481.92,135.91 L481.99,135.68 L482.07,135.46 L482.13,135.23 L482.20,135.01 L482.26,134.78 L482.32,134.56 L482.38,134.33 L482.45,134.11 L482.51,133.88 L482.57,133.66 L482.64,133.43 L482.71,133.21 L482.78,132.99 L482.85,132.76 L482.92,132.54 L482.99,132.31 L483.06,132.09 L483.14,131.86 L483.22,131.64 L483.30,131.41 L483.38,131.19 L483.46,130.96 L483.54,130.74 L483.63,130.51 L483.72,130.29 L483.81,130.06 L483.90,129.84 L484.00,129.61 L484.09,129.39 L484.19,129.17 L484.29,128.94 L484.38,128.72 L484.48,128.49 L484.59,128.27 L484.69,128.04 L484.79,127.82 L484.89,127.59 L485.00,127.37 L485.10,127.14 L485.21,126.92 L485.31,126.69 L485.42,126.47 L485.53,126.24 L485.63,126.02 L485.74,125.79 L485.85,125.57 L485.96,125.34 L486.07,125.12 L486.18,124.90 L486.30,124.67 L486.41,124.45 L486.52,124.22 L486.64,124.00 L486.76,123.77 L486.87,123.55 L486.99,123.32 L487.11,123.10 L487.23,122.87 L487.35,122.65 L487.48,122.42 L487.60,122.20 L487.72,121.97 L487.85,121.75 L487.97,121.52 L488.10,121.30Z" fill="#f0bc18" stroke="#1a1a1a" stroke-width="0.6" stroke-linejoin="round"/>
<g fill="#0a0a0a"><circle cx="489.57" cy="141.99" r="1.0"/><circle cx="486.99" cy="137.53" r="1.0"/><circle cx="485.92" cy="138.74" r="1.0"/><circle cx="490.14" cy="127.33" r="1.0"/><circle cx="487.32" cy="138.36" r="1.0"/><circle cx="490.06" cy="137.11" r="1.0"/><circle cx="495.91" cy="131.21" r="1.0"/><circle cx="488.74" cy="135.75" r="1.0"/><circle cx="493.00" cy="141.22" r="1.0"/><circle cx="490.95" cy="136.90" r="1.0"/><circle cx="486.01" cy="132.39" r="1.0"/><circle cx="493.83" cy="136.15" r="1.0"/><circle cx="491.56" cy="137.11" r="1.0"/><circle cx="484.59" cy="134.24" r="1.0"/><circle cx="489.82" cy="134.97" r="1.0"/><circle cx="496.14" cy="138.18" r="1.0"/><circle cx="492.40" cy="133.88" r="1.0"/><circle cx="491.70" cy="134.56" r="1.0"/><circle cx="486.75" cy="141.21" r="1.0"/><circle cx="488.44" cy="138.03" r="1.0"/><circle cx="490.39" cy="137.40" r="1.0"/><circle cx="485.59" cy="128.21" r="1.0"/><circle cx="481.57" cy="140.74" r="1.0"/><circle cx="495.22" cy="135.42" r="1.0"/><circle cx="485.79" cy="138.48" r="1.0"/><circle cx="481.77" cy="133.32" r="1.0"/><circle cx="481.20" cy="128.83" r="1.0"/><circle cx="495.24" cy="142.12" r="1.0"/><circle cx="487.77" cy="127.86" r="1.0"/><circle cx="484.93" cy="131.71" r="1.0"/><circle cx="484.00" cy="137.61" r="1.0"/><circle cx="492.88" cy="123.10" r="1.0"/><circle cx="487.17" cy="138.01" r="1.0"/><circle cx="483.06" cy="132.03" r="1.0"/><circle cx="490.13" cy="139.94" r="1.0"/><circle cx="488.50" cy="133.72" r="1.0"/><circle cx="485.94" cy="134.49" r="1.0"/><circle cx="485.72" cy="124.97" r="1.0"/><circle cx="485.74" cy="128.42" r="1.0"/><circle cx="488.52" cy="135.19" r="1.0"/><circle cx="486.43" cy="140.85" r="1.0"/><circle cx="483.86" cy="134.94" r="1.0"/><circle cx="492.64" cy="139.77" r="1.0"/><circle cx="494.12" cy="120.88" r="1.0"/><circle cx="487.81" cy="131.33" r="1.0"/><circle cx="488.58" cy="139.18" r="1.0"/><circle cx="492.66" cy="137.11" r="1.0"/><circle cx="482.50" cy="101.00" r="1.0"/><circle cx="488.70" cy="100.00" r="1.0"/><circle cx="481.50" cy="118.00" r="1.0"/><circle cx="482.00" cy="129.00" r="1.0"/></g>
<rect x="487.00" y="131.00" width="3.4" height="8.00" fill="#dcdcd4" stroke="#222" stroke-width="0.6"/>
<line x1="487.00" y1="135.50" x2="490.40" y2="135.50" stroke="#222" stroke-width="1.1"/>
<clipPath id="clip88"><rect x="110.3" y="207.3" width="130.3" height="106.59999999999997"/></clipPath>
<g clip-path="url(#clip88)">
<path d="M110.30,260.13 L111.39,260.01 L112.49,259.89 L113.58,259.76 L114.68,259.62 L115.77,259.47 L116.87,259.32 L117.96,259.16 L119.06,259.00 L120.15,258.84 L121.25,258.67 L122.34,258.49 L123.44,258.31 L124.53,258.13 L125.63,257.94 L126.72,257.76 L127.82,257.57 L128.91,257.38 L130.01,257.18 L131.10,256.99 L132.20,256.80 L133.29,256.60 L134.39,256.41 L135.48,256.21 L136.58,256.02 L137.67,255.83 L138.77,255.64 L139.86,255.45 L140.96,255.26 L142.05,255.08 L143.15,254.90 L144.24,254.72 L145.34,254.55 L146.43,254.38 L147.53,254.21 L148.62,254.05 L149.72,253.90 L150.81,253.75 L151.91,253.61 L153.00,253.47 L154.10,253.34 L155.19,253.22 L156.29,253.10 L157.38,253.00 L158.48,252.90 L159.57,252.81 L160.67,252.73 L161.76,252.66 L162.86,252.59 L163.95,252.54 L165.05,252.50 L166.14,252.47 L167.24,252.45 L168.33,252.45 L169.43,252.45 L170.52,252.47 L171.62,252.50 L172.71,252.54 L173.81,252.60 L174.90,252.67 L176.00,252.75 L177.09,252.85 L178.19,252.97 L179.28,253.10 L180.38,253.25 L181.47,253.41 L182.57,253.59 L183.66,253.78 L184.76,253.99 L185.85,254.22 L186.95,254.45 L188.04,254.70 L189.14,254.95 L190.23,255.21 L191.33,255.48 L192.42,255.75 L193.52,256.02 L194.61,256.29 L195.71,256.56 L196.80,256.82 L197.90,257.08 L198.99,257.33 L200.09,257.57 L201.18,257.81 L202.28,258.02 L203.37,258.23 L204.47,258.42 L205.56,258.59 L206.66,258.74 L207.75,258.87 L208.85,258.97 L209.94,259.05 L211.04,259.11 L212.13,259.14 L213.23,259.13 L214.32,259.10 L215.42,259.03 L216.51,258.92 L217.61,258.78 L218.70,258.60 L219.80,258.38 L220.89,258.11 L221.99,257.81 L223.08,257.45 L224.18,257.05 L225.27,256.60 L226.37,256.10 L227.46,255.54 L228.56,254.93 L229.65,254.27 L230.75,253.54 L231.84,252.76 L232.94,251.92 L234.03,251.01 L235.13,250.03 L236.22,248.99 L237.32,247.88 L238.41,246.70 L239.51,245.45 L240.60,244.13 L240.60,364.79 L239.51,361.04 L238.41,357.37 L237.32,353.79 L236.22,350.30 L235.13,346.89 L234.03,343.58 L232.94,340.34 L231.84,337.20 L230.75,334.13 L229.65,331.15 L228.56,328.25 L227.46,325.43 L226.37,322.69 L225.27,320.02 L224.18,317.44 L223.08,314.93 L221.99,312.49 L220.89,310.13 L219.80,307.84 L218.70,305.63 L217.61,303.49 L216.51,301.41 L215.42,299.41 L214.32,297.48 L213.23,295.61 L212.13,293.81 L211.04,292.07 L209.94,290.40 L208.85,288.79 L207.75,287.24 L206.66,285.76 L205.56,284.33 L204.47,282.97 L203.37,281.66 L202.28,280.41 L201.18,279.22 L200.09,278.08 L198.99,276.99 L197.90,275.96 L196.80,274.99 L195.71,274.06 L194.61,273.18 L193.52,272.36 L192.42,271.58 L191.33,270.85 L190.23,270.16 L189.14,269.52 L188.04,268.93 L186.95,268.38 L185.85,267.87 L184.76,267.40 L183.66,266.97 L182.57,266.58 L181.47,266.23 L180.38,265.92 L179.28,265.65 L178.19,265.40 L177.09,265.20 L176.00,265.03 L174.90,264.89 L173.81,264.78 L172.71,264.70 L171.62,264.66 L170.52,264.65 L169.43,264.67 L168.33,264.71 L167.24,264.79 L166.14,264.90 L165.05,265.04 L163.95,265.20 L162.86,265.40 L161.76,265.62 L160.67,265.87 L159.57,266.15 L158.48,266.45 L157.38,266.78 L156.29,267.13 L155.19,267.51 L154.10,267.92 L153.00,268.35 L151.91,268.80 L150.81,269.28 L149.72,269.78 L148.62,270.30 L147.53,270.85 L146.43,271.41 L145.34,272.00 L144.24,272.61 L143.15,273.24 L142.05,273.89 L140.96,274.57 L139.86,275.26 L138.77,275.97 L137.67,276.69 L136.58,277.44 L135.48,278.20 L134.39,278.99 L133.29,279.78 L132.20,280.60 L131.10,281.43 L130.01,282.28 L128.91,283.14 L127.82,284.02 L126.72,284.91 L125.63,285.81 L124.53,286.73 L123.44,287.67 L122.34,288.61 L121.25,289.57 L120.15,290.54 L119.06,291.52 L117.96,292.51 L116.87,293.51 L115.77,294.53 L114.68,295.55 L113.58,296.58 L112.49,297.62 L111.39,298.67 L110.30,299.73Z" fill="#c9c9ce"/>
<line x1="110.3" y1="260.4" x2="240.6" y2="260.4" stroke="#a83c64" stroke-width="1.4"/>
<path d="M110.30,281.73 L111.39,280.70 L112.49,279.69 L113.58,278.70 L114.68,277.74 L115.77,276.81 L116.87,275.89 L117.96,275.00 L119.06,274.14 L120.15,273.30 L121.25,272.48 L122.34,271.68 L123.44,270.91 L124.53,270.16 L125.63,269.44 L126.72,268.74 L127.82,268.06 L128.91,267.40 L130.01,266.77 L131.10,266.16 L132.20,265.58 L133.29,265.01 L134.39,264.47 L135.48,263.96 L136.58,263.46 L137.67,262.99 L138.77,262.54 L139.86,262.11 L140.96,261.71 L142.05,261.33 L143.15,260.97 L144.24,260.63 L145.34,260.31 L146.43,260.02 L147.53,259.75 L148.62,259.50 L149.72,259.27 L150.81,259.07 L151.91,258.88 L153.00,258.72 L154.10,258.58 L155.19,258.46 L156.29,258.36 L157.38,258.29 L158.48,258.24 L159.57,258.20 L160.67,258.19 L161.76,258.20 L162.86,258.23 L163.95,258.28 L165.05,258.36 L166.14,258.45 L167.24,258.57 L168.33,258.70 L169.43,258.86 L170.52,259.04 L171.62,259.23 L172.71,259.45 L173.81,259.69 L174.90,259.95 L176.00,260.23 L177.09,260.53 L178.19,260.85 L179.28,261.19 L180.38,261.55 L181.47,261.93 L182.57,262.34 L183.66,262.76 L184.76,263.20 L185.85,263.66 L186.95,264.15 L188.04,264.65 L189.14,265.18 L190.23,265.72 L191.33,266.29 L192.42,266.88 L193.52,267.48 L194.61,268.11 L195.71,268.76 L196.80,269.43 L197.90,270.12 L198.99,270.83 L200.09,271.56 L201.18,272.31 L202.28,273.09 L203.37,273.88 L204.47,274.69 L205.56,275.53 L206.66,276.39 L207.75,277.26 L208.85,278.16 L209.94,279.08 L211.04,280.02 L212.13,280.98 L213.23,281.97 L214.32,282.97 L215.42,284.00 L216.51,285.04 L217.61,286.10 L218.70,287.18 L219.80,288.28 L220.89,289.39 L221.99,290.50 L223.08,291.63 L224.18,292.77 L225.27,293.91 L226.37,295.05 L227.46,296.20 L228.56,297.35 L229.65,298.49 L230.75,299.63 L231.84,300.77 L232.94,301.90 L234.03,303.02 L235.13,304.13 L236.22,305.23 L237.32,306.31 L238.41,307.38 L239.51,308.43 L240.60,309.46" fill="none" stroke="#1a1a1a" stroke-width="1.2"/>
<path d="M110.30,260.13 L111.39,260.01 L112.49,259.89 L113.58,259.76 L114.68,259.62 L115.77,259.47 L116.87,259.32 L117.96,259.16 L119.06,259.00 L120.15,258.84 L121.25,258.67 L122.34,258.49 L123.44,258.31 L124.53,258.13 L125.63,257.94 L126.72,257.76 L127.82,257.57 L128.91,257.38 L130.01,257.18 L131.10,256.99 L132.20,256.80 L133.29,256.60 L134.39,256.41 L135.48,256.21 L136.58,256.02 L137.67,255.83 L138.77,255.64 L139.86,255.45 L140.96,255.26 L142.05,255.08 L143.15,254.90 L144.24,254.72 L145.34,254.55 L146.43,254.38 L147.53,254.21 L148.62,254.05 L149.72,253.90 L150.81,253.75 L151.91,253.61 L153.00,253.47 L154.10,253.34 L155.19,253.22 L156.29,253.10 L157.38,253.00 L158.48,252.90 L159.57,252.81 L160.67,252.73 L161.76,252.66 L162.86,252.59 L163.95,252.54 L165.05,252.50 L166.14,252.47 L167.24,252.45 L168.33,252.45 L169.43,252.45 L170.52,252.47 L171.62,252.50 L172.71,252.54 L173.81,252.60 L174.90,252.67 L176.00,252.75 L177.09,252.85 L178.19,252.97 L179.28,253.10 L180.38,253.25 L181.47,253.41 L182.57,253.59 L183.66,253.78 L184.76,253.99 L185.85,254.22 L186.95,254.45 L188.04,254.70 L189.14,254.95 L190.23,255.21 L191.33,255.48 L192.42,255.75 L193.52,256.02 L194.61,256.29 L195.71,256.56 L196.80,256.82 L197.90,257.08 L198.99,257.33 L200.09,257.57 L201.18,257.81 L202.28,258.02 L203.37,258.23 L204.47,258.42 L205.56,258.59 L206.66,258.74 L207.75,258.87 L208.85,258.97 L209.94,259.05 L211.04,259.11 L212.13,259.14 L213.23,259.13 L214.32,259.10 L215.42,259.03 L216.51,258.92 L217.61,258.78 L218.70,258.60 L219.80,258.38 L220.89,258.11 L221.99,257.81 L223.08,257.45 L224.18,257.05 L225.27,256.60 L226.37,256.10 L227.46,255.54 L228.56,254.93 L229.65,254.27 L230.75,253.54 L231.84,252.76 L232.94,251.92 L234.03,251.01 L235.13,250.03 L236.22,248.99 L237.32,247.88 L238.41,246.70 L239.51,245.45 L240.60,244.13" fill="none" stroke="#1a1a1a" stroke-width="1.15" stroke-dasharray="1.5 2.4"/>
<path d="M110.30,299.73 L111.39,298.67 L112.49,297.62 L113.58,296.58 L114.68,295.55 L115.77,294.53 L116.87,293.51 L117.96,292.51 L119.06,291.52 L120.15,290.54 L121.25,289.57 L122.34,288.61 L123.44,287.67 L124.53,286.73 L125.63,285.81 L126.72,284.91 L127.82,284.02 L128.91,283.14 L130.01,282.28 L131.10,281.43 L132.20,280.60 L133.29,279.78 L134.39,278.99 L135.48,278.20 L136.58,277.44 L137.67,276.69 L138.77,275.97 L139.86,275.26 L140.96,274.57 L142.05,273.89 L143.15,273.24 L144.24,272.61 L145.34,272.00 L146.43,271.41 L147.53,270.85 L148.62,270.30 L149.72,269.78 L150.81,269.28 L151.91,268.80 L153.00,268.35 L154.10,267.92 L155.19,267.51 L156.29,267.13 L157.38,266.78 L158.48,266.45 L159.57,266.15 L160.67,265.87 L161.76,265.62 L162.86,265.40 L163.95,265.20 L165.05,265.04 L166.14,264.90 L167.24,264.79 L168.33,264.71 L169.43,264.67 L170.52,264.65 L171.62,264.66 L172.71,264.70 L173.81,264.78 L174.90,264.89 L176.00,265.03 L177.09,265.20 L178.19,265.40 L179.28,265.65 L180.38,265.92 L181.47,266.23 L182.57,266.58 L183.66,266.97 L184.76,267.40 L185.85,267.87 L186.95,268.38 L188.04,268.93 L189.14,269.52 L190.23,270.16 L191.33,270.85 L192.42,271.58 L193.52,272.36 L194.61,273.18 L195.71,274.06 L196.80,274.99 L197.90,275.96 L198.99,276.99 L200.09,278.08 L201.18,279.22 L202.28,280.41 L203.37,281.66 L204.47,282.97 L205.56,284.33 L206.66,285.76 L207.75,287.24 L208.85,288.79 L209.94,290.40 L211.04,292.07 L212.13,293.81 L213.23,295.61 L214.32,297.48 L215.42,299.41 L216.51,301.41 L217.61,303.49 L218.70,305.63 L219.80,307.84 L220.89,310.13 L221.99,312.49 L223.08,314.93 L224.18,317.44 L225.27,320.02 L226.37,322.69 L227.46,325.43 L228.56,328.25 L229.65,331.15 L230.75,334.13 L231.84,337.20 L232.94,340.34 L234.03,343.58 L235.13,346.89 L236.22,350.30 L237.32,353.79 L238.41,357.37 L239.51,361.04 L240.60,364.79" fill="none" stroke="#1a1a1a" stroke-width="1.15" stroke-dasharray="1.5 2.4"/>
</g>
<rect x="110.3" y="207.3" width="130.3" height="106.59999999999997" fill="none" stroke="#2b2b2b" stroke-width="1.35"/>
<line x1="107.30" y1="210.95" x2="110.30" y2="210.95" stroke="#2b2b2b" stroke-width="1.0"/>
<line x1="107.30" y1="225.85" x2="110.30" y2="225.85" stroke="#2b2b2b" stroke-width="1.0"/>
<text x="105.00" y="227.85" font-size="5.8" text-anchor="end" stroke="#1e1e1e" stroke-width="0.18" textLength="9.00" lengthAdjust="spacingAndGlyphs" fill="#1e1e1e">5.0</text>
<line x1="107.30" y1="245.55" x2="110.30" y2="245.55" stroke="#2b2b2b" stroke-width="1.0"/>
<text x="105.00" y="247.55" font-size="5.8" text-anchor="end" stroke="#1e1e1e" stroke-width="0.18" textLength="9.00" lengthAdjust="spacingAndGlyphs" fill="#1e1e1e">2.0</text>
<line x1="107.30" y1="260.45" x2="110.30" y2="260.45" stroke="#2b2b2b" stroke-width="1.0"/>
<text x="105.00" y="262.45" font-size="5.8" text-anchor="end" stroke="#1e1e1e" stroke-width="0.18" textLength="9.00" lengthAdjust="spacingAndGlyphs" fill="#1e1e1e">1.0</text>
<line x1="107.30" y1="275.35" x2="110.30" y2="275.35" stroke="#2b2b2b" stroke-width="1.0"/>
<text x="105.00" y="277.35" font-size="5.8" text-anchor="end" stroke="#1e1e1e" stroke-width="0.18" textLength="9.00" lengthAdjust="spacingAndGlyphs" fill="#1e1e1e">0.5</text>
<line x1="107.30" y1="295.05" x2="110.30" y2="295.05" stroke="#2b2b2b" stroke-width="1.0"/>
<text x="105.00" y="297.05" font-size="5.8" text-anchor="end" stroke="#1e1e1e" stroke-width="0.18" textLength="9.00" lengthAdjust="spacingAndGlyphs" fill="#1e1e1e">0.2</text>
<line x1="107.30" y1="309.95" x2="110.30" y2="309.95" stroke="#2b2b2b" stroke-width="1.0"/>
<text x="105.00" y="311.95" font-size="5.8" text-anchor="end" stroke="#1e1e1e" stroke-width="0.18" textLength="9.00" lengthAdjust="spacingAndGlyphs" fill="#1e1e1e">0.1</text>
<line x1="115.20" y1="313.90" x2="115.20" y2="316.90" stroke="#2b2b2b" stroke-width="1.0"/>
<text x="115.20" y="325.90" font-size="5.8" text-anchor="middle" stroke="#1e1e1e" stroke-width="0.18" textLength="7.20" lengthAdjust="spacingAndGlyphs" fill="#1e1e1e">10</text>
<line x1="135.20" y1="313.90" x2="135.20" y2="316.90" stroke="#2b2b2b" stroke-width="1.0"/>
<text x="135.20" y="325.90" font-size="5.8" text-anchor="middle" stroke="#1e1e1e" stroke-width="0.18" textLength="7.20" lengthAdjust="spacingAndGlyphs" fill="#1e1e1e">20</text>
<line x1="155.20" y1="313.90" x2="155.20" y2="316.90" stroke="#2b2b2b" stroke-width="1.0"/>
<text x="155.20" y="325.90" font-size="5.8" text-anchor="middle" stroke="#1e1e1e" stroke-width="0.18" textLength="7.20" lengthAdjust="spacingAndGlyphs" fill="#1e1e1e">30</text>
<line x1="175.20" y1="313.90" x2="175.20" y2="316.90" stroke="#2b2b2b" stroke-width="1.0"/>
<text x="175.20" y="325.90" font-size="5.8" text-anchor="middle" stroke="#1e1e1e" stroke-width="0.18" textLength="7.20" lengthAdjust="spacingAndGlyphs" fill="#1e1e1e">40</text>
<line x1="195.20" y1="313.90" x2="195.20" y2="316.90" stroke="#2b2b2b" stroke-width="1.0"/>
<text x="195.20" y="325.90" font-size="5.8" text-anchor="middle" stroke="#1e1e1e" stroke-width="0.18" textLength="7.20" lengthAdjust="spacingAndGlyphs" fill="#1e1e1e">50</text>
<line x1="215.20" y1="313.90" x2="215.20" y2="316.90" stroke="#2b2b2b" stroke-width="1.0"/>
<text x="215.20" y="325.90" font-size="5.8" text-anchor="middle" stroke="#1e1e1e" stroke-width="0.18" textLength="7.20" lengthAdjust="spacingAndGlyphs" fill="#1e1e1e">60</text>
<line x1="235.20" y1="313.90" x2="235.20" y2="316.90" stroke="#2b2b2b" stroke-width="1.0"/>
<text x="235.20" y="325.90" font-size="5.8" text-anchor="middle" stroke="#1e1e1e" stroke-width="0.18" textLength="7.20" lengthAdjust="spacingAndGlyphs" fill="#1e1e1e">70</text>
<text x="175.45" y="337.20" font-size="7.8" text-anchor="middle" stroke="#1e1e1e" stroke-width="0.3" textLength="67.00" lengthAdjust="spacingAndGlyphs" fill="#1e1e1e">Number of mutated genes</text>
<text x="89.60" y="260.00" font-size="7.5" text-anchor="middle" stroke="#1e1e1e" stroke-width="0.3" textLength="97.00" lengthAdjust="spacingAndGlyphs" transform="rotate(-90 89.60 260.00)" fill="#1e1e1e">Progression–free survival hazard ratio</text>
<text x="88.00" y="205.30" font-size="12.3" text-anchor="middle" font-weight="bold" fill="#1e1e1e">D</text>
<line x1="248.60" y1="253.80" x2="248.60" y2="271.00" stroke="#1a1a1a" stroke-width="0.9"/>
<path d="M246.70,255.30 L248.60,251.30 L250.50,255.30Z" fill="#1a1a1a"/>
<line x1="248.60" y1="296.50" x2="248.60" y2="312.50" stroke="#1a1a1a" stroke-width="0.9"/>
<path d="M246.70,311.00 L248.60,315.00 L250.50,311.00Z" fill="#1a1a1a"/>
<text x="250.70" y="283.00" font-size="6.6" text-anchor="middle" stroke="#1e1e1e" stroke-width="0.15" textLength="21.50" lengthAdjust="spacingAndGlyphs" transform="rotate(-90 250.70 283.00)" fill="#1e1e1e">95% CI</text>
<clipPath id="clip272"><rect x="294.2" y="207.3" width="131.0" height="106.59999999999997"/></clipPath>
<g clip-path="url(#clip272)">
<path d="M294.20,230.33 L295.30,231.57 L296.40,232.84 L297.50,234.12 L298.60,235.42 L299.70,236.71 L300.81,237.97 L301.91,239.21 L303.01,240.40 L304.11,241.53 L305.21,242.58 L306.31,243.56 L307.41,244.43 L308.51,245.19 L309.61,245.84 L310.71,246.37 L311.81,246.81 L312.91,247.15 L314.02,247.41 L315.12,247.58 L316.22,247.69 L317.32,247.73 L318.42,247.71 L319.52,247.64 L320.62,247.53 L321.72,247.38 L322.82,247.20 L323.92,247.00 L325.02,246.78 L326.12,246.55 L327.23,246.31 L328.33,246.06 L329.43,245.80 L330.53,245.53 L331.63,245.24 L332.73,244.95 L333.83,244.65 L334.93,244.34 L336.03,244.02 L337.13,243.70 L338.23,243.37 L339.33,243.03 L340.44,242.69 L341.54,242.34 L342.64,242.00 L343.74,241.64 L344.84,241.29 L345.94,240.93 L347.04,240.57 L348.14,240.21 L349.24,239.85 L350.34,239.48 L351.44,239.12 L352.54,238.76 L353.65,238.41 L354.75,238.05 L355.85,237.70 L356.95,237.35 L358.05,237.01 L359.15,236.67 L360.25,236.33 L361.35,236.01 L362.45,235.69 L363.55,235.37 L364.65,235.07 L365.75,234.77 L366.86,234.48 L367.96,234.20 L369.06,233.93 L370.16,233.67 L371.26,233.43 L372.36,233.19 L373.46,232.97 L374.56,232.75 L375.66,232.55 L376.76,232.34 L377.86,232.13 L378.96,231.93 L380.07,231.71 L381.17,231.49 L382.27,231.26 L383.37,231.02 L384.47,230.76 L385.57,230.47 L386.67,230.17 L387.77,229.84 L388.87,229.49 L389.97,229.10 L391.07,228.68 L392.17,228.23 L393.28,227.73 L394.38,227.19 L395.48,226.61 L396.58,225.98 L397.68,225.30 L398.78,224.57 L399.88,223.76 L400.98,222.85 L402.08,221.83 L403.18,220.67 L404.28,219.35 L405.38,217.85 L406.49,216.19 L407.59,214.39 L408.69,212.46 L409.79,210.43 L410.89,208.32 L411.99,206.13 L413.09,203.90 L414.19,201.65 L415.29,199.38 L416.39,197.12 L417.49,194.90 L418.59,192.72 L419.70,190.61 L420.80,188.58 L421.90,186.67 L423.00,184.87 L424.10,183.22 L425.20,181.74 L425.20,1222.90 L424.10,1101.42 L423.00,991.45 L421.90,892.41 L420.80,803.72 L419.70,724.78 L418.59,655.03 L417.49,593.87 L416.39,540.71 L415.29,494.99 L414.19,456.10 L413.09,423.47 L411.99,396.51 L410.89,374.64 L409.79,357.28 L408.69,343.83 L407.59,333.73 L406.49,326.37 L405.38,321.18 L404.28,317.58 L403.18,314.98 L402.08,312.80 L400.98,310.74 L399.88,308.78 L398.78,306.90 L397.68,305.11 L396.58,303.39 L395.48,301.73 L394.38,300.14 L393.28,298.59 L392.17,297.10 L391.07,295.63 L389.97,294.20 L388.87,292.79 L387.77,291.39 L386.67,290.01 L385.57,288.64 L384.47,287.29 L383.37,285.96 L382.27,284.66 L381.17,283.38 L380.07,282.14 L378.96,280.94 L377.86,279.77 L376.76,278.65 L375.66,277.58 L374.56,276.55 L373.46,275.58 L372.36,274.67 L371.26,273.81 L370.16,273.02 L369.06,272.28 L367.96,271.60 L366.86,270.98 L365.75,270.41 L364.65,269.89 L363.55,269.43 L362.45,269.01 L361.35,268.64 L360.25,268.32 L359.15,268.04 L358.05,267.80 L356.95,267.60 L355.85,267.45 L354.75,267.33 L353.65,267.25 L352.54,267.20 L351.44,267.19 L350.34,267.22 L349.24,267.28 L348.14,267.38 L347.04,267.51 L345.94,267.67 L344.84,267.87 L343.74,268.09 L342.64,268.35 L341.54,268.64 L340.44,268.95 L339.33,269.30 L338.23,269.67 L337.13,270.09 L336.03,270.54 L334.93,271.04 L333.83,271.58 L332.73,272.18 L331.63,272.84 L330.53,273.56 L329.43,274.34 L328.33,275.20 L327.23,276.13 L326.12,277.15 L325.02,278.24 L323.92,279.43 L322.82,280.70 L321.72,282.05 L320.62,283.47 L319.52,284.95 L318.42,286.48 L317.32,288.04 L316.22,289.63 L315.12,291.24 L314.02,292.90 L312.91,294.65 L311.81,296.53 L310.71,298.58 L309.61,300.83 L308.51,303.34 L307.41,306.13 L306.31,309.14 L305.21,312.21 L304.11,315.18 L303.01,317.90 L301.91,320.19 L300.81,321.90 L299.70,322.88 L298.60,322.95 L297.50,321.96 L296.40,319.76 L295.30,316.17 L294.20,311.03Z" fill="#c9c9ce"/>
<line x1="294.2" y1="260.4" x2="425.2" y2="260.4" stroke="#a83c64" stroke-width="1.4"/>
<path d="M294.20,287.55 L295.30,286.37 L296.40,285.22 L297.50,284.09 L298.60,282.99 L299.70,281.91 L300.81,280.85 L301.91,279.81 L303.01,278.79 L304.11,277.80 L305.21,276.83 L306.31,275.88 L307.41,274.95 L308.51,274.04 L309.61,273.16 L310.71,272.29 L311.81,271.45 L312.91,270.63 L314.02,269.83 L315.12,269.04 L316.22,268.28 L317.32,267.54 L318.42,266.82 L319.52,266.12 L320.62,265.44 L321.72,264.78 L322.82,264.14 L323.92,263.51 L325.02,262.91 L326.12,262.32 L327.23,261.76 L328.33,261.21 L329.43,260.68 L330.53,260.17 L331.63,259.68 L332.73,259.21 L333.83,258.75 L334.93,258.31 L336.03,257.89 L337.13,257.49 L338.23,257.11 L339.33,256.74 L340.44,256.39 L341.54,256.05 L342.64,255.74 L343.74,255.44 L344.84,255.15 L345.94,254.89 L347.04,254.63 L348.14,254.40 L349.24,254.18 L350.34,253.98 L351.44,253.79 L352.54,253.62 L353.65,253.46 L354.75,253.32 L355.85,253.19 L356.95,253.08 L358.05,252.98 L359.15,252.90 L360.25,252.83 L361.35,252.77 L362.45,252.73 L363.55,252.71 L364.65,252.70 L365.75,252.70 L366.86,252.71 L367.96,252.75 L369.06,252.80 L370.16,252.86 L371.26,252.95 L372.36,253.05 L373.46,253.18 L374.56,253.32 L375.66,253.49 L376.76,253.68 L377.86,253.89 L378.96,254.12 L380.07,254.38 L381.17,254.67 L382.27,254.98 L383.37,255.32 L384.47,255.69 L385.57,256.08 L386.67,256.51 L387.77,256.96 L388.87,257.45 L389.97,257.97 L391.07,258.52 L392.17,259.10 L393.28,259.72 L394.38,260.38 L395.48,261.07 L396.58,261.80 L397.68,262.56 L398.78,263.37 L399.88,264.21 L400.98,265.11 L402.08,266.05 L403.18,267.03 L404.28,268.07 L405.38,269.17 L406.49,270.32 L407.59,271.52 L408.69,272.79 L409.79,274.12 L410.89,275.51 L411.99,276.97 L413.09,278.50 L414.19,280.10 L415.29,281.78 L416.39,283.53 L417.49,285.35 L418.59,287.26 L419.70,289.25 L420.80,291.32 L421.90,293.48 L423.00,295.73 L424.10,298.07 L425.20,300.51" fill="none" stroke="#1a1a1a" stroke-width="1.2"/>
<path d="M294.20,230.33 L295.30,231.57 L296.40,232.84 L297.50,234.12 L298.60,235.42 L299.70,236.71 L300.81,237.97 L301.91,239.21 L303.01,240.40 L304.11,241.53 L305.21,242.58 L306.31,243.56 L307.41,244.43 L308.51,245.19 L309.61,245.84 L310.71,246.37 L311.81,246.81 L312.91,247.15 L314.02,247.41 L315.12,247.58 L316.22,247.69 L317.32,247.73 L318.42,247.71 L319.52,247.64 L320.62,247.53 L321.72,247.38 L322.82,247.20 L323.92,247.00 L325.02,246.78 L326.12,246.55 L327.23,246.31 L328.33,246.06 L329.43,245.80 L330.53,245.53 L331.63,245.24 L332.73,244.95 L333.83,244.65 L334.93,244.34 L336.03,244.02 L337.13,243.70 L338.23,243.37 L339.33,243.03 L340.44,242.69 L341.54,242.34 L342.64,242.00 L343.74,241.64 L344.84,241.29 L345.94,240.93 L347.04,240.57 L348.14,240.21 L349.24,239.85 L350.34,239.48 L351.44,239.12 L352.54,238.76 L353.65,238.41 L354.75,238.05 L355.85,237.70 L356.95,237.35 L358.05,237.01 L359.15,236.67 L360.25,236.33 L361.35,236.01 L362.45,235.69 L363.55,235.37 L364.65,235.07 L365.75,234.77 L366.86,234.48 L367.96,234.20 L369.06,233.93 L370.16,233.67 L371.26,233.43 L372.36,233.19 L373.46,232.97 L374.56,232.75 L375.66,232.55 L376.76,232.34 L377.86,232.13 L378.96,231.93 L380.07,231.71 L381.17,231.49 L382.27,231.26 L383.37,231.02 L384.47,230.76 L385.57,230.47 L386.67,230.17 L387.77,229.84 L388.87,229.49 L389.97,229.10 L391.07,228.68 L392.17,228.23 L393.28,227.73 L394.38,227.19 L395.48,226.61 L396.58,225.98 L397.68,225.30 L398.78,224.57 L399.88,223.76 L400.98,222.85 L402.08,221.83 L403.18,220.67 L404.28,219.35 L405.38,217.85 L406.49,216.19 L407.59,214.39 L408.69,212.46 L409.79,210.43 L410.89,208.32 L411.99,206.13 L413.09,203.90 L414.19,201.65 L415.29,199.38 L416.39,197.12 L417.49,194.90 L418.59,192.72 L419.70,190.61 L420.80,188.58 L421.90,186.67 L423.00,184.87 L424.10,183.22 L425.20,181.74" fill="none" stroke="#1a1a1a" stroke-width="1.15" stroke-dasharray="1.5 2.4"/>
<path d="M294.20,311.03 L295.30,316.17 L296.40,319.76 L297.50,321.96 L298.60,322.95 L299.70,322.88 L300.81,321.90 L301.91,320.19 L303.01,317.90 L304.11,315.18 L305.21,312.21 L306.31,309.14 L307.41,306.13 L308.51,303.34 L309.61,300.83 L310.71,298.58 L311.81,296.53 L312.91,294.65 L314.02,292.90 L315.12,291.24 L316.22,289.63 L317.32,288.04 L318.42,286.48 L319.52,284.95 L320.62,283.47 L321.72,282.05 L322.82,280.70 L323.92,279.43 L325.02,278.24 L326.12,277.15 L327.23,276.13 L328.33,275.20 L329.43,274.34 L330.53,273.56 L331.63,272.84 L332.73,272.18 L333.83,271.58 L334.93,271.04 L336.03,270.54 L337.13,270.09 L338.23,269.67 L339.33,269.30 L340.44,268.95 L341.54,268.64 L342.64,268.35 L343.74,268.09 L344.84,267.87 L345.94,267.67 L347.04,267.51 L348.14,267.38 L349.24,267.28 L350.34,267.22 L351.44,267.19 L352.54,267.20 L353.65,267.25 L354.75,267.33 L355.85,267.45 L356.95,267.60 L358.05,267.80 L359.15,268.04 L360.25,268.32 L361.35,268.64 L362.45,269.01 L363.55,269.43 L364.65,269.89 L365.75,270.41 L366.86,270.98 L367.96,271.60 L369.06,272.28 L370.16,273.02 L371.26,273.81 L372.36,274.67 L373.46,275.58 L374.56,276.55 L375.66,277.58 L376.76,278.65 L377.86,279.77 L378.96,280.94 L380.07,282.14 L381.17,283.38 L382.27,284.66 L383.37,285.96 L384.47,287.29 L385.57,288.64 L386.67,290.01 L387.77,291.39 L388.87,292.79 L389.97,294.20 L391.07,295.63 L392.17,297.10 L393.28,298.59 L394.38,300.14 L395.48,301.73 L396.58,303.39 L397.68,305.11 L398.78,306.90 L399.88,308.78 L400.98,310.74 L402.08,312.80 L403.18,314.98 L404.28,317.58 L405.38,321.18 L406.49,326.37 L407.59,333.73 L408.69,343.83 L409.79,357.28 L410.89,374.64 L411.99,396.51 L413.09,423.47 L414.19,456.10 L415.29,494.99 L416.39,540.71 L417.49,593.87 L418.59,655.03 L419.70,724.78 L420.80,803.72 L421.90,892.41 L423.00,991.45 L424.10,1101.42 L425.20,1222.90" fill="none" stroke="#1a1a1a" stroke-width="1.15" stroke-dasharray="1.5 2.4"/>
</g>
<rect x="294.2" y="207.3" width="131.0" height="106.59999999999997" fill="none" stroke="#2b2b2b" stroke-width="1.35"/>
<line x1="291.20" y1="210.95" x2="294.20" y2="210.95" stroke="#2b2b2b" stroke-width="1.0"/>
<line x1="291.20" y1="225.85" x2="294.20" y2="225.85" stroke="#2b2b2b" stroke-width="1.0"/>
<text x="288.90" y="227.85" font-size="5.8" text-anchor="end" stroke="#1e1e1e" stroke-width="0.18" textLength="9.00" lengthAdjust="spacingAndGlyphs" fill="#1e1e1e">5.0</text>
<line x1="291.20" y1="245.55" x2="294.20" y2="245.55" stroke="#2b2b2b" stroke-width="1.0"/>
<text x="288.90" y="247.55" font-size="5.8" text-anchor="end" stroke="#1e1e1e" stroke-width="0.18" textLength="9.00" lengthAdjust="spacingAndGlyphs" fill="#1e1e1e">2.0</text>
<line x1="291.20" y1="260.45" x2="294.20" y2="260.45" stroke="#2b2b2b" stroke-width="1.0"/>
<text x="288.90" y="262.45" font-size="5.8" text-anchor="end" stroke="#1e1e1e" stroke-width="0.18" textLength="9.00" lengthAdjust="spacingAndGlyphs" fill="#1e1e1e">1.0</text>
<line x1="291.20" y1="275.35" x2="294.20" y2="275.35" stroke="#2b2b2b" stroke-width="1.0"/>
<text x="288.90" y="277.35" font-size="5.8" text-anchor="end" stroke="#1e1e1e" stroke-width="0.18" textLength="9.00" lengthAdjust="spacingAndGlyphs" fill="#1e1e1e">0.5</text>
<line x1="291.20" y1="295.05" x2="294.20" y2="295.05" stroke="#2b2b2b" stroke-width="1.0"/>
<text x="288.90" y="297.05" font-size="5.8" text-anchor="end" stroke="#1e1e1e" stroke-width="0.18" textLength="9.00" lengthAdjust="spacingAndGlyphs" fill="#1e1e1e">0.2</text>
<line x1="291.20" y1="309.95" x2="294.20" y2="309.95" stroke="#2b2b2b" stroke-width="1.0"/>
<text x="288.90" y="311.95" font-size="5.8" text-anchor="end" stroke="#1e1e1e" stroke-width="0.18" textLength="9.00" lengthAdjust="spacingAndGlyphs" fill="#1e1e1e">0.1</text>
<line x1="299.50" y1="313.90" x2="299.50" y2="316.90" stroke="#2b2b2b" stroke-width="1.0"/>
<text x="299.50" y="325.90" font-size="5.8" text-anchor="middle" stroke="#1e1e1e" stroke-width="0.18" textLength="7.20" lengthAdjust="spacingAndGlyphs" fill="#1e1e1e">10</text>
<line x1="319.50" y1="313.90" x2="319.50" y2="316.90" stroke="#2b2b2b" stroke-width="1.0"/>
<text x="319.50" y="325.90" font-size="5.8" text-anchor="middle" stroke="#1e1e1e" stroke-width="0.18" textLength="7.20" lengthAdjust="spacingAndGlyphs" fill="#1e1e1e">20</text>
<line x1="339.50" y1="313.90" x2="339.50" y2="316.90" stroke="#2b2b2b" stroke-width="1.0"/>
<text x="339.50" y="325.90" font-size="5.8" text-anchor="middle" stroke="#1e1e1e" stroke-width="0.18" textLength="7.20" lengthAdjust="spacingAndGlyphs" fill="#1e1e1e">30</text>
<line x1="359.50" y1="313.90" x2="359.50" y2="316.90" stroke="#2b2b2b" stroke-width="1.0"/>
<text x="359.50" y="325.90" font-size="5.8" text-anchor="middle" stroke="#1e1e1e" stroke-width="0.18" textLength="7.20" lengthAdjust="spacingAndGlyphs" fill="#1e1e1e">40</text>
<line x1="379.50" y1="313.90" x2="379.50" y2="316.90" stroke="#2b2b2b" stroke-width="1.0"/>
<text x="379.50" y="325.90" font-size="5.8" text-anchor="middle" stroke="#1e1e1e" stroke-width="0.18" textLength="7.20" lengthAdjust="spacingAndGlyphs" fill="#1e1e1e">50</text>
<line x1="399.50" y1="313.90" x2="399.50" y2="316.90" stroke="#2b2b2b" stroke-width="1.0"/>
<text x="399.50" y="325.90" font-size="5.8" text-anchor="middle" stroke="#1e1e1e" stroke-width="0.18" textLength="7.20" lengthAdjust="spacingAndGlyphs" fill="#1e1e1e">60</text>
<line x1="419.50" y1="313.90" x2="419.50" y2="316.90" stroke="#2b2b2b" stroke-width="1.0"/>
<text x="419.50" y="325.90" font-size="5.8" text-anchor="middle" stroke="#1e1e1e" stroke-width="0.18" textLength="7.20" lengthAdjust="spacingAndGlyphs" fill="#1e1e1e">70</text>
<text x="359.70" y="337.20" font-size="7.8" text-anchor="middle" stroke="#1e1e1e" stroke-width="0.3" textLength="67.00" lengthAdjust="spacingAndGlyphs" fill="#1e1e1e">Number of mutated genes</text>
<text x="274.00" y="259.90" font-size="7.5" text-anchor="middle" stroke="#1e1e1e" stroke-width="0.3" textLength="53.40" lengthAdjust="spacingAndGlyphs" transform="rotate(-90 274.00 259.90)" fill="#1e1e1e">Survival hazard ratio</text>
<text x="272.50" y="205.30" font-size="12.3" text-anchor="middle" font-weight="bold" fill="#1e1e1e">E</text>
<line x1="433.80" y1="213.70" x2="433.80" y2="251.00" stroke="#1a1a1a" stroke-width="0.9"/>
<path d="M431.90,215.20 L433.80,211.20 L435.70,215.20Z" fill="#1a1a1a"/>
<line x1="433.80" y1="277.50" x2="433.80" y2="311.50" stroke="#1a1a1a" stroke-width="0.9"/>
<path d="M431.90,310.00 L433.80,314.00 L435.70,310.00Z" fill="#1a1a1a"/>
<text x="435.90" y="263.00" font-size="6.6" text-anchor="middle" stroke="#1e1e1e" stroke-width="0.15" textLength="21.50" lengthAdjust="spacingAndGlyphs" transform="rotate(-90 435.90 263.00)" fill="#1e1e1e">95% CI</text>
</g>
<rect x="0.5" y="0.5" width="519" height="345" fill="none" stroke="#5a5a5a" stroke-width="1"/>
</svg>
</body></html>
